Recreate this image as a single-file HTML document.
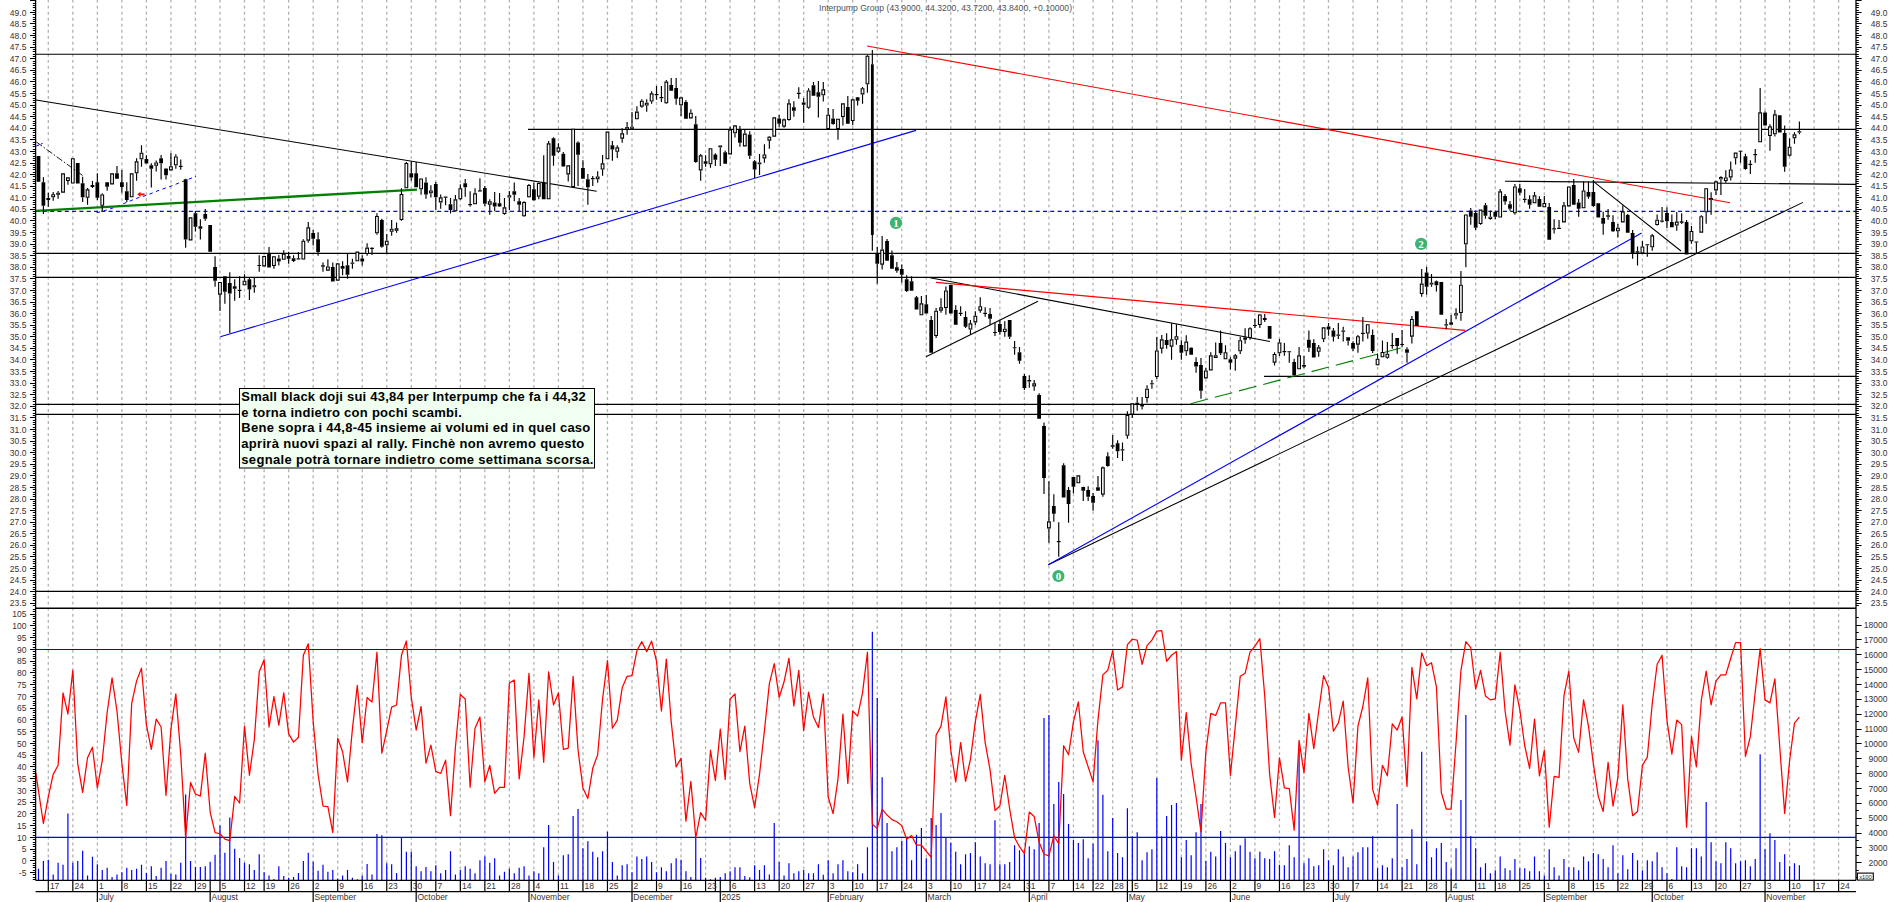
<!DOCTYPE html><html><head><meta charset="utf-8"><title>chart</title><style>html,body{margin:0;padding:0;background:#fff;overflow:hidden}body{width:1890px;height:902px;position:relative}</style></head><body><svg width="1890" height="902" viewBox="0 0 1890 902" style="position:absolute;left:0;top:0">
<rect width="100%" height="100%" fill="#fff"/>
<path d="M48.30 0V880.30M72.83 0V880.30M97.35 0V880.30M121.88 0V880.30M146.40 0V880.30M170.93 0V880.30M195.45 0V880.30M219.98 0V880.30M244.50 0V880.30M264.12 0V880.30M288.64 0V880.30M313.17 0V880.30M337.70 0V880.30M362.22 0V880.30M386.75 0V880.30M411.27 0V880.30M435.80 0V880.30M460.32 0V880.30M484.85 0V880.30M509.37 0V880.30M533.89 0V880.30M558.42 0V880.30M582.95 0V880.30M607.47 0V880.30M632.00 0V880.30M656.52 0V880.30M681.05 0V880.30M705.57 0V880.30M730.10 0V880.30M754.62 0V880.30M779.15 0V880.30M803.67 0V880.30M828.20 0V880.30M852.72 0V880.30M877.25 0V880.30M901.77 0V880.30M926.30 0V880.30M950.82 0V880.30M975.35 0V880.30M999.87 0V880.30M1024.39 0V880.30M1048.92 0V880.30M1073.45 0V880.30M1093.07 0V880.30M1112.69 0V880.30M1132.31 0V880.30M1156.83 0V880.30M1181.36 0V880.30M1205.88 0V880.30M1230.40 0V880.30M1254.93 0V880.30M1279.46 0V880.30M1303.98 0V880.30M1328.51 0V880.30M1353.03 0V880.30M1377.56 0V880.30M1402.08 0V880.30M1426.61 0V880.30M1451.13 0V880.30M1475.65 0V880.30M1495.28 0V880.30M1519.80 0V880.30M1544.33 0V880.30M1568.85 0V880.30M1593.38 0V880.30M1617.90 0V880.30M1642.43 0V880.30M1666.95 0V880.30M1691.48 0V880.30M1716.00 0V880.30M1740.53 0V880.30M1765.05 0V880.30M1789.58 0V880.30M1814.10 0V880.30M1838.62 0V880.30" stroke="#b2b2b2" stroke-width="1.3" stroke-dasharray="2.9 3.12" stroke-dashoffset="0.3" fill="none"/>
<path d="M35.60 54.20H1856.00M35.60 253.40H1856.00M35.60 277.30H1856.00M35.60 404.40H1856.00M35.60 414.40H1856.00M35.60 591.40H1856.00M528 129.4H1856.00M1264 376.4H1856.00M1505 181.2L1856.00 184.4" stroke="#000" stroke-width="1.15" fill="none"/>
<path d="M35.60 211.3H1856.00" stroke="#0000ff" stroke-width="1.3" stroke-dasharray="4 3.3" fill="none"/>
<path d="M35.60 649.48H1856.00M35.60 837.40H1856.00" stroke="#0000ff" stroke-width="1.2" fill="none"/>
<path d="M36 100L596.7 191.3M930 277.7L1270 341.6M926 356.7L1038 301.3M1048.3 564.7L1803 202.4M1593.3 181.3L1681 251" stroke="#000" stroke-width="1.05" fill="none"/>
<path d="M36.4 142L83.3 176" stroke="#000" stroke-width="0.9" stroke-dasharray="7 2 1.5 2" fill="none"/>
<path d="M220.3 336.7L916 130.4M1048.3 564.7L1641.6 233" stroke="#0000ff" stroke-width="1.1" fill="none"/>
<path d="M36.4 146L42.7 143.3" stroke="#0000ff" stroke-width="1" stroke-dasharray="3 2" fill="none"/>
<path d="M96.7 212.7L102.7 211.3L116.7 206.7L127.3 202L139.3 197.3L146.7 195.3L158 190.7L171.3 186L184.7 180.7L196 176.4" stroke="#0000ff" stroke-width="1" stroke-dasharray="3.5 3.5" fill="none"/>
<path d="M867 46L1730 202.7M936 282.4L1465.3 330.4" stroke="#ff0000" stroke-width="1.1" fill="none"/>
<path d="M36 210.9L417 189.7" stroke="#008000" stroke-width="2.3" fill="none"/>
<path d="M1190.7 403.7L1400.7 348" stroke="#008000" stroke-width="1.1" stroke-dasharray="18 7" fill="none"/>
<path d="M137.3 194.3l3.2 -2.6v1.7h4.2v1.8h-4.2v1.7z" fill="#ff0000"/>
<path d="M43.40 177.33V182.27M43.40 205.73V214.00M48.30 192.67V198.00M48.30 200.00V206.67M53.20 192.00V194.27M53.20 197.33V200.67M58.11 191.07V192.67M58.11 194.67V198.67M67.92 181.07V184.67M82.64 176.67V183.33M82.64 197.33V202.00M87.54 188.00V189.33M87.54 197.73V204.67M92.45 181.07V184.93M92.45 187.07V188.00M97.35 173.33V182.27M97.35 197.73V200.00M102.25 193.33V194.40M102.25 205.73V211.33M107.16 186.67V190.67M116.97 166.00V173.33M121.88 170.00V182.27M121.88 187.07V192.67M126.78 182.27V191.33M126.78 200.00V202.00M136.59 158.27V161.33M136.59 173.33V180.67M141.50 145.33V152.67M141.50 159.33V166.67M146.40 155.33V159.07M151.31 163.33V165.33M151.31 168.67V187.60M156.21 160.40V162.40M156.21 165.73V171.60M161.12 155.07V158.27M161.12 163.33V179.60M166.02 175.33V179.60M170.93 152.93V166.27M175.83 154.27V156.40M175.83 165.33V168.67M180.74 159.60V165.78M180.74 166.88V169.73M185.64 178.67V179.33M185.64 239.60V247.73M195.45 211.07V213.33M195.45 226.67V231.60M200.36 219.33V226.27M200.36 228.67V239.60M205.26 208.93V214.00M205.26 218.67V220.67M215.07 256.27V266.93M215.07 280.67V286.67M219.98 294.67V310.93M224.88 291.73V303.73M229.79 272.27V282.93M229.79 293.60V333.07M234.69 279.33V286.27M234.69 288.67V300.67M239.60 276.27V289.78M239.60 290.88V298.00M244.50 274.27V280.67M249.41 278.00V279.33M249.41 289.60V300.00M254.31 278.00V285.33M254.31 287.33V292.67M259.22 255.33V264.98M259.22 266.08V271.73M269.03 247.07V253.60M273.93 266.00V268.67M278.83 254.93V258.40M278.83 261.60V265.60M283.74 250.27V253.60M288.64 251.73V256.00M288.64 258.67V263.73M293.55 255.33V258.27M293.55 260.93V262.00M298.46 252.00V258.27M303.36 239.33V240.67M308.27 222.00V227.33M308.27 240.67V242.67M313.17 230.00V232.93M313.17 238.67V245.60M318.08 232.27V239.33M318.08 252.00V255.73M322.98 262.40V265.33M322.98 266.67V271.73M327.89 259.33V266.40M332.79 262.40V266.93M342.60 261.33V266.00M342.60 268.67V275.33M347.51 254.00V265.33M347.51 274.67V278.67M352.41 258.67V262.40M352.41 263.73V268.67M362.22 255.33V258.40M362.22 261.60V265.60M367.12 243.33V247.60M367.12 254.00V255.73M372.03 247.33V247.78M372.03 248.88V254.93M376.94 213.33V216.00M376.94 233.33V234.67M381.84 218.67V220.00M381.84 246.67V247.73M386.75 234.00V240.67M386.75 245.33V253.33M391.65 220.00V228.67M391.65 231.73V235.73M396.56 222.40V228.27M396.56 230.67V232.67M401.46 188.27V194.00M401.46 220.00V220.67M406.37 162.00V162.93M411.27 161.33V173.33M411.27 177.60V180.67M416.18 162.00V173.33M421.08 189.33V194.67M425.99 177.33V182.40M425.99 194.40V198.67M430.89 185.33V190.40M430.89 193.33V197.60M435.80 182.00V184.00M435.80 197.33V210.00M440.70 194.40V197.33M440.70 202.40V208.67M445.61 197.68V205.33M450.51 198.00V204.27M450.51 210.00V213.60M455.42 194.93V199.33M460.32 184.27V188.27M460.32 199.33V200.00M465.23 179.07V183.33M465.23 187.33V196.67M470.13 191.33V204.12M470.13 205.22V206.67M475.04 188.27V193.33M479.94 178.27V190.32M479.94 191.42V191.73M484.85 186.00V188.00M484.85 203.73V206.00M489.75 199.33V201.33M489.75 204.67V214.67M494.66 192.00V202.40M494.66 206.40V211.33M499.56 192.93V203.33M499.56 206.40V206.67M504.47 198.00V207.33M504.47 214.00V214.67M509.37 191.07V195.33M509.37 197.60V210.00M514.27 182.40V191.33M514.27 194.67V201.33M519.18 198.00V201.33M519.18 204.67V211.33M524.09 201.33V202.00M524.09 216.27V216.67M528.99 184.00V185.07M528.99 197.33V197.60M533.89 182.67V189.33M533.89 200.27V200.67M538.80 182.67V182.93M538.80 196.67V199.33M543.71 155.33V182.40M548.61 141.07V143.33M553.51 137.20V138.33M553.51 155.67V165.67M558.42 143.20V147.33M558.42 151.87V152.67M563.33 152.00V153.73M563.33 166.40V166.67M568.23 174.40V181.60M578.04 141.33V142.40M578.04 154.67V186.00M582.95 160.27V168.00M587.85 174.00V179.33M587.85 187.33V204.67M592.75 176.00V178.00M592.75 179.33V186.00M597.66 171.33V176.40M597.66 179.33V182.67M602.57 154.93V163.33M602.57 169.60V175.73M612.38 141.07V145.33M612.38 149.60V160.67M617.28 145.33V147.33M617.28 151.73V158.00M622.19 128.27V133.33M622.19 138.67V142.67M627.09 122.00V126.93M627.09 129.33V134.67M632.00 112.00V126.67M636.90 106.27V111.60M641.81 99.33V100.67M641.81 106.67V107.73M646.71 99.33V102.67M646.71 105.60V111.73M651.62 91.33V93.33M651.62 101.60V103.73M656.52 86.00V94.12M656.52 95.22V99.73M661.43 86.00V97.12M661.43 98.22V102.00M666.33 80.00V81.60M666.33 103.33V103.73M671.24 78.00V85.07M676.14 78.00V88.00M676.14 98.67V104.67M681.05 105.33V116.00M685.95 100.00V102.00M690.86 109.33V112.67M695.76 116.00V124.27M695.76 162.00V162.67M700.67 154.00V155.33M700.67 170.40V180.67M705.57 155.33V161.33M705.57 163.73V166.67M710.48 164.27V167.73M715.38 153.33V154.40M715.38 159.73V166.00M720.29 145.33V145.60M720.29 147.33V166.00M725.19 150.40V152.27M730.10 126.67V129.33M735.00 133.33V137.60M739.91 126.00V129.33M739.91 142.67V146.67M744.81 130.00V133.60M749.72 131.33V134.40M749.72 155.73V158.93M754.62 160.00V161.33M754.62 169.60V178.00M759.53 154.00V162.40M759.53 164.27V174.93M764.43 144.27V154.40M764.43 158.40V162.67M769.34 136.00V136.67M769.34 140.67V148.67M779.15 114.93V118.40M779.15 123.73V126.67M784.05 118.40V119.33M784.05 126.67V127.73M788.96 99.33V103.33M788.96 120.00V120.67M793.86 101.33V107.33M793.86 110.67V116.67M798.77 87.33V92.78M798.77 93.88V98.67M803.67 98.00V102.40M803.67 104.67V122.67M808.58 88.27V90.40M808.58 107.73V108.67M813.48 82.00V85.33M818.39 81.07V92.27M818.39 96.67V117.60M823.29 82.00V89.33M823.29 95.33V101.60M828.20 108.00V114.67M833.10 109.07V118.40M833.10 124.00V124.67M838.00 129.07V139.73M842.91 117.07V125.60M847.82 96.00V106.93M852.72 98.67V99.33M852.72 121.07V125.33M857.62 97.07V97.33M857.62 100.67V105.60M862.53 86.93V88.27M862.53 94.40V103.73M867.44 54.67V55.73M867.44 84.27V92.67M872.34 50.00V64.30M872.34 234.90V250.70M877.25 246.93V253.33M877.25 263.73V283.73M882.15 236.00V249.60M882.15 264.67V269.60M887.06 239.07V241.07M891.96 250.40V255.33M896.87 262.00V267.33M896.87 270.67V272.67M901.77 264.40V269.07M901.77 274.67V282.67M906.68 275.33V279.33M906.68 290.93V292.00M911.58 276.27V281.33M916.49 296.00V297.33M921.39 296.00V303.33M926.30 294.93V304.27M931.20 316.00V320.00M936.11 308.00V310.67M936.11 336.00V338.00M941.01 298.27V307.33M941.01 310.67V312.67M945.92 286.40V290.40M945.92 308.00V314.67M955.73 305.33V310.00M960.63 306.27V312.67M960.63 314.00V316.00M965.54 311.33V317.07M965.54 326.67V328.00M970.44 320.00V323.33M970.44 329.60V334.40M975.35 311.33V315.73M975.35 322.40V325.07M980.25 297.33V306.27M980.25 310.67V312.67M985.16 307.33V312.67M985.16 314.00V316.67M990.06 308.00V314.00M990.06 318.67V325.33M994.97 322.67V331.98M994.97 333.08V336.00M999.87 320.00V324.00M999.87 332.00V334.67M1004.78 321.33V328.67M1004.78 332.00V336.67M1009.68 336.67V338.93M1014.59 341.07V347.25M1014.59 348.35V354.67M1019.49 346.93V352.27M1019.49 360.67V363.73M1024.39 374.00V376.00M1024.39 388.00V390.00M1029.30 375.33V380.00M1029.30 381.60V387.73M1034.20 380.00V383.33M1034.20 386.40V390.67M1039.11 393.33V394.93M1044.02 422.40V426.00M1044.02 478.00V494.00M1048.92 481.33V521.33M1048.92 528.40V542.67M1053.83 494.27V506.00M1053.83 513.73V521.73M1058.73 522.27V541.12M1058.73 542.22V556.67M1063.63 463.33V465.33M1068.54 487.07V490.00M1068.54 504.00V522.67M1073.45 486.67V493.33M1083.26 486.67V487.07M1083.26 490.67V500.93M1088.16 486.27V490.00M1088.16 496.67V500.93M1093.07 492.93V496.00M1093.07 502.67V510.67M1097.97 476.00V487.33M1102.88 466.40V467.33M1102.88 494.67V496.67M1107.78 452.27V456.27M1107.78 466.00V466.67M1112.69 434.93V445.33M1112.69 446.67V448.67M1117.59 440.27V443.33M1117.59 451.33V458.00M1122.50 442.40V449.32M1122.50 450.42V460.93M1127.40 411.33V414.93M1127.40 435.73V438.67M1132.31 414.67V418.00M1137.21 397.07V402.67M1137.21 404.27V410.67M1142.12 397.07V404.67M1142.12 406.40V409.60M1147.02 385.33V388.67M1147.02 398.00V402.67M1151.92 380.00V383.25M1151.92 384.35V388.67M1156.83 337.07V350.40M1156.83 377.07V378.93M1161.74 334.93V339.33M1161.74 348.67V353.60M1166.64 333.33V340.00M1166.64 345.07V348.67M1171.55 323.33V339.33M1171.55 346.67V359.73M1176.45 324.27V336.27M1176.45 339.73V344.67M1181.36 340.27V345.07M1181.36 352.67V359.73M1186.26 335.33V341.60M1186.26 351.33V355.73M1191.16 347.33V347.73M1196.07 357.33V362.00M1196.07 366.40V372.67M1200.98 358.00V365.07M1200.98 390.67V398.67M1205.88 368.00V370.40M1210.79 352.27V355.33M1215.69 342.40V355.33M1220.60 330.40V342.93M1220.60 353.33V354.93M1225.50 345.33V352.27M1230.40 357.33V359.33M1230.40 362.67V369.60M1235.31 354.00V355.33M1235.31 358.67V370.67M1240.22 336.67V340.27M1240.22 351.33V354.00M1245.12 328.27V337.60M1245.12 339.73V343.73M1250.03 327.33V328.27M1250.03 338.00V339.73M1254.93 318.67V324.98M1254.93 326.08V328.00M1259.84 314.00V314.40M1259.84 325.07V328.00M1264.74 314.00V318.00M1264.74 320.00V322.00M1274.55 352.27V354.00M1274.55 362.67V365.60M1279.46 339.07V342.40M1279.46 353.33V356.00M1284.36 342.93V350.93M1284.36 352.27V355.73M1289.27 352.35V362.67M1294.17 358.67V362.00M1294.17 375.33V376.67M1299.08 346.93V355.33M1303.98 356.00V365.07M1303.98 366.67V368.00M1308.88 330.40V339.73M1308.88 347.73V352.00M1313.79 339.33V342.93M1318.70 345.07V347.33M1318.70 351.73V356.67M1323.60 339.33V342.00M1328.51 322.93V326.40M1328.51 329.60V335.73M1333.41 328.00V330.40M1333.41 336.67V341.60M1338.32 322.93V334.40M1338.32 335.73V338.93M1343.22 326.67V330.40M1343.22 331.73V341.60M1348.12 340.67V345.60M1353.03 341.33V342.93M1353.03 348.67V350.93M1357.94 334.93V336.27M1357.94 344.67V352.67M1362.84 317.07V332.78M1362.84 333.88V341.60M1367.75 333.60V338.67M1372.65 329.60V334.93M1372.65 350.93V353.07M1377.56 353.60V358.67M1377.56 365.33V365.60M1382.46 340.40V352.00M1387.37 342.00V353.73M1387.37 357.73V358.67M1392.27 332.93V344.92M1392.27 346.02V348.67M1397.18 346.00V353.73M1402.08 330.00V343.92M1402.08 345.02V347.33M1406.99 347.33V349.33M1406.99 352.67V362.67M1411.89 316.00V319.07M1411.89 336.67V343.60M1421.70 269.07V283.60M1421.70 294.00V296.67M1426.61 267.07V272.40M1426.61 286.67V294.67M1431.51 274.00V282.67M1431.51 284.40V286.67M1436.42 280.40V281.33M1436.42 285.33V291.60M1446.23 319.07V324.32M1446.23 325.42V329.33M1451.13 315.07V322.27M1456.04 308.27V313.33M1456.04 315.60V319.33M1460.94 271.07V284.67M1460.94 312.93V320.67M1465.85 244.27V267.33M1470.75 208.00V210.40M1470.75 216.67V224.67M1475.65 210.40V213.07M1475.65 227.73V230.00M1480.56 224.00V224.67M1485.47 202.93V205.33M1485.47 215.73V218.67M1490.37 210.40V216.67M1490.37 218.93V219.73M1495.28 210.40V212.00M1495.28 216.67V219.33M1500.18 189.07V191.33M1505.09 194.00V196.00M1505.09 201.60V204.67M1509.99 201.07V204.27M1509.99 208.67V210.67M1514.89 184.00V186.40M1514.89 213.33V214.67M1519.80 184.00V188.27M1519.80 192.67V195.33M1524.71 189.07V198.78M1524.71 199.88V202.67M1529.61 195.33V199.33M1529.61 204.67V208.67M1534.52 192.00V195.33M1539.42 196.27V198.93M1544.33 196.00V202.93M1549.23 202.93V206.93M1554.13 219.33V228.27M1554.13 229.60V233.60M1559.04 220.00V227.85M1563.95 202.00V205.33M1573.76 179.07V185.07M1578.66 198.93V202.40M1578.66 208.67V216.67M1583.57 181.33V190.40M1588.47 181.33V192.00M1588.47 196.67V198.67M1593.38 180.00V192.00M1593.38 206.00V206.67M1603.19 211.73V218.00M1603.19 223.73V234.67M1608.09 209.07V215.33M1608.09 216.67V219.73M1613.00 215.33V222.00M1613.00 231.33V232.00M1617.90 224.00V227.73M1617.90 231.33V237.60M1622.81 205.33V211.33M1627.71 214.00V214.93M1632.62 230.00V233.07M1632.62 253.33V258.67M1637.52 246.40V251.33M1637.52 252.67V265.60M1642.43 241.07V246.40M1647.33 245.35V256.67M1652.24 234.00V235.33M1652.24 247.33V250.67M1657.14 214.40V219.73M1657.14 225.07V225.60M1662.05 206.93V220.58M1662.05 221.68V222.40M1666.95 207.33V213.07M1666.95 221.33V228.00M1671.86 214.40V222.00M1676.76 212.00V221.60M1676.76 225.60V230.67M1681.67 213.33V221.33M1681.67 222.67V224.00M1686.57 220.00V222.00M1691.48 226.00V230.93M1691.48 241.33V243.73M1696.38 242.55V253.33M1701.29 215.33V216.27M1706.19 212.27V223.73M1711.10 192.27V198.00M1711.10 200.00V214.67M1716.00 180.67V181.33M1716.00 190.40V194.93M1720.91 176.27V177.07M1720.91 179.33V194.93M1725.81 170.33V177.40M1725.81 181.00V182.73M1730.72 161.40V169.40M1730.72 177.40V180.60M1735.62 158.33V164.60M1740.53 151.75V162.73M1745.43 153.67V156.33M1745.43 169.00V169.67M1750.34 160.33V163.78M1750.34 164.88V173.93M1755.24 149.00V154.12M1755.24 155.22V162.73M1760.15 88.07V112.33M1765.05 111.27V112.60M1769.96 124.33V126.33M1769.96 136.07V150.73M1774.86 109.93V114.33M1774.86 134.33V136.60M1784.67 125.40V133.00M1784.67 166.73V171.67M1789.58 138.33V146.73M1789.58 155.67V156.60M1794.48 132.33V134.33M1794.48 138.33V143.67M1799.38 121.40V131.27M1799.38 132.60V134.33" stroke="#000" stroke-width="1.15" fill="none"/>
<path d="M36.62 156.00h3.75v25.73h-3.75zM41.52 182.27h3.75v23.47h-3.75zM46.43 198.00h3.75v2.00h-3.75zM51.30 194.27h3.80v3.07h-3.80zM56.26 192.67h3.70v2.00h-3.70zM61.12 173.33h3.80v19.33h-3.80zM66.02 177.33h3.80v3.73h-3.80zM70.92 158.27h3.80v25.33h-3.80zM75.86 163.07h3.75v20.53h-3.75zM80.76 183.33h3.75v14.00h-3.75zM85.64 189.33h3.80v8.40h-3.80zM90.57 184.93h3.75v2.13h-3.75zM95.47 182.27h3.75v15.47h-3.75zM100.35 194.40h3.80v11.33h-3.80zM105.28 182.27h3.75v4.40h-3.75zM110.16 173.33h3.80v11.07h-3.80zM115.09 173.33h3.75v5.33h-3.75zM120.00 182.27h3.75v4.80h-3.75zM124.91 191.33h3.75v8.67h-3.75zM129.78 173.33h3.80v24.00h-3.80zM134.69 161.33h3.80v12.00h-3.80zM139.59 152.67h3.80v6.67h-3.80zM144.53 159.07h3.75v4.53h-3.75zM149.43 165.33h3.75v3.33h-3.75zM154.31 162.40h3.80v3.33h-3.80zM159.24 158.27h3.75v5.07h-3.75zM164.15 168.40h3.75v6.93h-3.75zM169.03 166.27h3.80v4.13h-3.80zM173.93 156.40h3.80v8.93h-3.80zM178.86 165.78h3.75v1.10h-3.75zM183.77 179.33h3.75v60.27h-3.75zM188.65 217.33h3.80v23.07h-3.80zM193.58 213.33h3.75v13.33h-3.75zM198.48 226.27h3.75v2.40h-3.75zM203.39 214.00h3.75v4.67h-3.75zM208.29 225.07h3.75v26.67h-3.75zM213.20 266.93h3.75v13.73h-3.75zM218.08 282.00h3.80v12.67h-3.80zM223.01 276.27h3.75v15.47h-3.75zM227.91 282.93h3.75v10.67h-3.75zM232.82 286.27h3.75v2.40h-3.75zM237.72 289.78h3.75v1.10h-3.75zM242.60 280.67h3.80v4.67h-3.80zM247.53 279.33h3.75v10.27h-3.75zM252.46 285.33h3.70v2.00h-3.70zM257.34 264.98h3.75v1.10h-3.75zM262.22 256.00h3.80v10.40h-3.80zM267.15 253.60h3.75v14.00h-3.75zM272.03 256.27h3.80v9.73h-3.80zM276.96 258.40h3.75v3.20h-3.75zM281.84 253.60h3.80v6.13h-3.80zM286.77 256.00h3.75v2.67h-3.75zM291.68 258.27h3.75v2.67h-3.75zM296.58 258.27h3.75v1.33h-3.75zM301.46 240.67h3.80v18.93h-3.80zM306.37 227.33h3.80v13.33h-3.80zM311.30 232.93h3.75v5.73h-3.75zM316.20 239.33h3.75v12.67h-3.75zM321.11 265.33h3.75v1.33h-3.75zM325.99 266.40h3.80v4.27h-3.80zM330.92 266.93h3.75v14.67h-3.75zM335.80 263.33h3.80v17.33h-3.80zM340.73 266.00h3.75v2.67h-3.75zM345.63 265.33h3.75v9.33h-3.75zM350.54 262.40h3.75v1.33h-3.75zM355.42 251.60h3.80v9.73h-3.80zM360.35 258.40h3.75v3.20h-3.75zM365.23 247.60h3.80v6.40h-3.80zM370.16 247.78h3.75v1.10h-3.75zM375.04 216.00h3.80v17.33h-3.80zM379.97 220.00h3.75v26.67h-3.75zM384.85 240.67h3.80v4.67h-3.80zM389.75 228.67h3.80v3.07h-3.80zM394.66 228.27h3.80v2.40h-3.80zM399.56 194.00h3.80v26.00h-3.80zM404.47 162.93h3.80v25.33h-3.80zM409.40 173.33h3.75v4.27h-3.75zM414.30 173.33h3.75v14.00h-3.75zM419.18 178.40h3.80v10.93h-3.80zM424.11 182.40h3.75v12.00h-3.75zM428.99 190.40h3.80v2.93h-3.80zM433.92 184.00h3.75v13.33h-3.75zM438.80 197.33h3.80v5.07h-3.80zM443.73 196.58h3.75v1.10h-3.75zM448.64 204.27h3.75v5.73h-3.75zM453.52 199.33h3.80v12.00h-3.80zM458.42 188.27h3.80v11.07h-3.80zM463.35 183.33h3.75v4.00h-3.75zM468.26 204.12h3.75v1.10h-3.75zM473.14 193.33h3.80v10.93h-3.80zM478.07 190.32h3.75v1.10h-3.75zM482.97 188.00h3.75v15.73h-3.75zM487.85 201.33h3.80v3.33h-3.80zM492.78 202.40h3.75v4.00h-3.75zM497.69 203.33h3.75v3.07h-3.75zM502.57 207.33h3.80v6.67h-3.80zM507.52 195.33h3.70v2.27h-3.70zM512.40 191.33h3.75v3.33h-3.75zM517.30 201.33h3.75v3.33h-3.75zM522.19 202.00h3.80v14.27h-3.80zM527.09 185.07h3.80v12.27h-3.80zM532.02 189.33h3.75v10.93h-3.75zM536.90 182.93h3.80v13.73h-3.80zM541.83 182.40h3.75v16.93h-3.75zM546.71 143.33h3.80v56.00h-3.80zM551.64 138.33h3.75v17.33h-3.75zM556.52 147.33h3.80v4.53h-3.80zM561.45 153.73h3.75v12.67h-3.75zM566.33 165.33h3.80v9.07h-3.80zM571.24 128.67h3.80v58.27h-3.80zM576.17 142.40h3.75v12.27h-3.75zM581.07 168.00h3.75v10.67h-3.75zM585.98 179.33h3.75v8.00h-3.75zM590.88 178.00h3.75v1.33h-3.75zM595.76 176.40h3.80v2.93h-3.80zM600.67 163.33h3.80v6.27h-3.80zM605.57 131.60h3.80v27.73h-3.80zM610.50 145.33h3.75v4.27h-3.75zM615.38 147.33h3.80v4.40h-3.80zM620.29 133.33h3.80v5.33h-3.80zM625.24 126.93h3.70v2.40h-3.70zM630.14 126.67h3.70v2.40h-3.70zM635.00 111.60h3.80v7.73h-3.80zM639.91 100.67h3.80v6.00h-3.80zM644.81 102.67h3.80v2.93h-3.80zM649.72 93.33h3.80v8.27h-3.80zM654.65 94.12h3.75v1.10h-3.75zM659.55 97.12h3.75v1.10h-3.75zM664.43 81.60h3.80v21.73h-3.80zM669.36 85.07h3.75v5.60h-3.75zM674.26 88.00h3.75v10.67h-3.75zM679.15 97.33h3.80v8.00h-3.80zM684.08 102.00h3.75v16.67h-3.75zM688.96 112.67h3.80v5.73h-3.80zM693.88 124.27h3.75v37.73h-3.75zM698.77 155.33h3.80v15.07h-3.80zM703.70 161.33h3.75v2.40h-3.75zM708.58 148.27h3.80v16.00h-3.80zM713.50 154.40h3.75v5.33h-3.75zM718.44 145.60h3.70v1.73h-3.70zM723.32 152.27h3.75v11.47h-3.75zM728.20 129.33h3.80v25.07h-3.80zM733.10 125.33h3.80v8.00h-3.80zM738.03 129.33h3.75v13.33h-3.75zM742.91 133.60h3.80v12.80h-3.80zM747.84 134.40h3.75v21.33h-3.75zM752.75 161.33h3.75v8.27h-3.75zM757.68 162.40h3.70v1.87h-3.70zM762.53 154.40h3.80v4.00h-3.80zM767.44 136.67h3.80v4.00h-3.80zM772.34 117.33h3.80v19.33h-3.80zM777.27 118.40h3.75v5.33h-3.75zM782.15 119.33h3.80v7.33h-3.80zM787.06 103.33h3.80v16.67h-3.80zM791.99 107.33h3.75v3.33h-3.75zM796.89 92.78h3.75v1.10h-3.75zM801.80 102.40h3.75v2.27h-3.75zM806.68 90.40h3.80v17.33h-3.80zM811.61 85.33h3.75v10.40h-3.75zM816.51 92.27h3.75v4.40h-3.75zM821.39 89.33h3.80v6.00h-3.80zM826.30 114.67h3.80v14.40h-3.80zM831.23 118.40h3.75v5.60h-3.75zM836.11 118.67h3.80v10.40h-3.80zM841.01 103.33h3.80v13.73h-3.80zM845.94 106.93h3.75v16.80h-3.75zM850.82 99.33h3.80v21.73h-3.80zM855.75 97.33h3.75v3.33h-3.75zM860.63 88.27h3.80v6.13h-3.80zM865.54 55.73h3.80v28.53h-3.80zM870.94 64.30h2.80v170.60h-2.80zM875.37 253.33h3.75v10.40h-3.75zM880.25 249.60h3.80v15.07h-3.80zM885.18 241.07h3.75v19.60h-3.75zM890.09 255.33h3.75v13.33h-3.75zM894.99 267.33h3.75v3.33h-3.75zM899.90 269.07h3.75v5.60h-3.75zM904.80 279.33h3.75v11.60h-3.75zM909.71 281.33h3.75v9.33h-3.75zM914.61 297.33h3.75v12.27h-3.75zM919.49 303.33h3.80v12.00h-3.80zM924.42 304.27h3.75v9.33h-3.75zM929.33 320.00h3.75v32.67h-3.75zM934.21 310.67h3.80v25.33h-3.80zM939.11 307.33h3.80v3.33h-3.80zM944.02 290.40h3.80v17.60h-3.80zM948.95 285.07h3.75v28.53h-3.75zM953.85 310.00h3.75v14.67h-3.75zM958.76 312.67h3.75v1.33h-3.75zM963.66 317.07h3.75v9.60h-3.75zM968.54 323.33h3.80v6.27h-3.80zM973.45 315.73h3.80v6.67h-3.80zM978.35 306.27h3.80v4.40h-3.80zM983.28 312.67h3.75v1.33h-3.75zM988.19 314.00h3.75v4.67h-3.75zM993.09 331.98h3.75v1.10h-3.75zM998.00 324.00h3.75v8.00h-3.75zM1002.88 328.67h3.80v3.33h-3.80zM1007.81 320.00h3.75v16.67h-3.75zM1012.71 347.25h3.75v1.10h-3.75zM1017.62 352.27h3.75v8.40h-3.75zM1022.52 376.00h3.75v12.00h-3.75zM1027.42 380.00h3.75v1.60h-3.75zM1032.30 383.33h3.80v3.07h-3.80zM1037.21 394.93h3.80v23.73h-3.80zM1042.12 426.00h3.80v52.00h-3.80zM1047.02 521.33h3.80v7.07h-3.80zM1051.95 506.00h3.75v7.73h-3.75zM1056.86 541.12h3.75v1.10h-3.75zM1061.76 465.33h3.75v32.27h-3.75zM1066.66 490.00h3.75v14.00h-3.75zM1071.57 477.07h3.75v9.60h-3.75zM1076.45 475.33h3.80v8.00h-3.80zM1081.38 487.07h3.75v3.60h-3.75zM1086.29 490.00h3.75v6.67h-3.75zM1091.19 496.00h3.75v6.67h-3.75zM1096.10 487.33h3.75v3.33h-3.75zM1100.97 467.33h3.80v27.33h-3.80zM1105.90 456.27h3.75v9.73h-3.75zM1110.81 445.33h3.75v1.33h-3.75zM1115.72 443.33h3.75v8.00h-3.75zM1120.62 449.32h3.75v1.10h-3.75zM1125.50 414.93h3.80v20.80h-3.80zM1130.40 403.33h3.80v11.33h-3.80zM1135.34 402.67h3.75v1.60h-3.75zM1140.24 404.67h3.75v1.73h-3.75zM1145.12 388.67h3.80v9.33h-3.80zM1150.05 383.25h3.75v1.10h-3.75zM1154.93 350.40h3.80v26.67h-3.80zM1159.84 339.33h3.80v9.33h-3.80zM1164.77 340.00h3.75v5.07h-3.75zM1169.64 339.33h3.80v7.33h-3.80zM1174.55 336.27h3.80v3.47h-3.80zM1179.48 345.07h3.75v7.60h-3.75zM1184.36 341.60h3.80v9.73h-3.80zM1189.29 347.73h3.75v6.93h-3.75zM1194.20 362.00h3.75v4.40h-3.75zM1199.10 365.07h3.75v25.60h-3.75zM1203.98 370.40h3.80v8.00h-3.80zM1208.88 355.33h3.80v15.07h-3.80zM1213.79 355.33h3.80v2.67h-3.80zM1218.72 342.93h3.75v10.40h-3.75zM1223.60 352.27h3.80v7.07h-3.80zM1228.53 359.33h3.75v3.33h-3.75zM1233.41 355.33h3.80v3.33h-3.80zM1238.32 340.27h3.80v11.07h-3.80zM1243.25 337.60h3.75v2.13h-3.75zM1248.12 328.27h3.80v9.73h-3.80zM1253.06 324.98h3.75v1.10h-3.75zM1257.93 314.40h3.80v10.67h-3.80zM1262.87 318.00h3.75v2.00h-3.75zM1267.77 326.00h3.75v12.67h-3.75zM1272.65 354.00h3.80v8.67h-3.80zM1277.56 342.40h3.80v10.93h-3.80zM1282.49 350.93h3.75v1.33h-3.75zM1287.39 351.25h3.75v1.10h-3.75zM1292.30 362.00h3.75v13.33h-3.75zM1297.17 355.33h3.80v14.00h-3.80zM1302.11 365.07h3.75v1.60h-3.75zM1307.01 339.73h3.75v8.00h-3.75zM1311.91 342.93h3.75v14.67h-3.75zM1316.80 347.33h3.80v4.40h-3.80zM1321.70 327.33h3.80v12.00h-3.80zM1326.63 326.40h3.75v3.20h-3.75zM1331.54 330.40h3.75v6.27h-3.75zM1336.44 334.40h3.75v1.33h-3.75zM1341.35 330.40h3.75v1.33h-3.75zM1346.25 337.33h3.75v3.33h-3.75zM1351.15 342.93h3.75v5.73h-3.75zM1356.04 336.27h3.80v8.40h-3.80zM1360.97 332.78h3.75v1.10h-3.75zM1365.85 324.27h3.80v9.33h-3.80zM1370.78 334.93h3.75v16.00h-3.75zM1375.65 358.67h3.80v6.67h-3.80zM1380.56 352.00h3.80v5.33h-3.80zM1385.46 353.73h3.80v4.00h-3.80zM1390.39 344.92h3.75v1.10h-3.75zM1395.30 338.00h3.75v8.00h-3.75zM1400.21 343.92h3.75v1.10h-3.75zM1405.11 349.33h3.75v3.33h-3.75zM1409.99 319.07h3.80v17.60h-3.80zM1414.92 311.33h3.75v14.67h-3.75zM1419.80 283.60h3.80v10.40h-3.80zM1424.73 272.40h3.75v14.27h-3.75zM1429.66 282.67h3.70v1.73h-3.70zM1434.54 281.33h3.75v4.00h-3.75zM1439.45 282.00h3.75v32.67h-3.75zM1444.35 324.32h3.75v1.10h-3.75zM1449.26 322.27h3.75v2.40h-3.75zM1454.19 313.33h3.70v2.27h-3.70zM1459.04 284.67h3.80v28.27h-3.80zM1463.94 214.40h3.80v29.87h-3.80zM1468.88 210.40h3.75v6.27h-3.75zM1473.78 213.07h3.75v14.67h-3.75zM1478.66 209.60h3.80v14.40h-3.80zM1483.59 205.33h3.75v10.40h-3.75zM1488.52 216.67h3.70v2.27h-3.70zM1493.40 212.00h3.75v4.67h-3.75zM1498.28 191.33h3.80v26.27h-3.80zM1503.21 196.00h3.75v5.60h-3.75zM1508.12 204.27h3.75v4.40h-3.75zM1512.99 186.40h3.80v26.93h-3.80zM1517.93 188.27h3.75v4.40h-3.75zM1522.83 198.78h3.75v1.10h-3.75zM1527.74 199.33h3.75v5.33h-3.75zM1532.62 195.33h3.80v8.00h-3.80zM1537.55 198.93h3.75v7.73h-3.75zM1542.42 202.93h3.80v4.40h-3.80zM1547.36 206.93h3.75v32.80h-3.75zM1552.26 228.27h3.75v1.33h-3.75zM1557.17 227.85h3.75v1.10h-3.75zM1562.05 205.33h3.80v17.07h-3.80zM1566.95 186.40h3.80v20.00h-3.80zM1571.88 185.07h3.75v19.60h-3.75zM1576.79 202.40h3.75v6.27h-3.75zM1581.66 190.40h3.80v17.87h-3.80zM1586.60 192.00h3.75v4.67h-3.75zM1591.50 192.00h3.75v14.00h-3.75zM1596.41 203.33h3.75v14.27h-3.75zM1601.31 218.00h3.75v5.73h-3.75zM1606.22 215.33h3.75v1.33h-3.75zM1611.12 222.00h3.75v9.33h-3.75zM1616.00 227.73h3.80v3.60h-3.80zM1620.90 211.33h3.80v11.07h-3.80zM1625.84 214.93h3.75v17.73h-3.75zM1630.74 233.07h3.75v20.27h-3.75zM1635.64 251.33h3.75v1.33h-3.75zM1640.53 246.40h3.80v6.93h-3.80zM1645.46 244.25h3.75v1.10h-3.75zM1650.34 235.33h3.80v12.00h-3.80zM1655.24 219.73h3.80v5.33h-3.80zM1660.17 220.58h3.75v1.10h-3.75zM1665.08 213.07h3.75v8.27h-3.75zM1669.98 222.00h3.75v5.33h-3.75zM1674.86 221.60h3.80v4.00h-3.80zM1679.79 221.33h3.75v1.33h-3.75zM1684.70 222.00h3.75v32.40h-3.75zM1689.58 230.93h3.80v10.40h-3.80zM1694.51 241.45h3.75v1.10h-3.75zM1699.38 216.27h3.80v16.40h-3.80zM1704.29 188.27h3.80v24.00h-3.80zM1709.25 198.00h3.70v2.00h-3.70zM1714.10 181.33h3.80v9.07h-3.80zM1719.06 177.07h3.70v2.27h-3.70zM1723.91 177.40h3.80v3.60h-3.80zM1728.82 169.40h3.80v8.00h-3.80zM1733.72 152.60h3.80v5.73h-3.80zM1738.65 150.65h3.75v1.10h-3.75zM1743.56 156.33h3.75v12.67h-3.75zM1748.46 163.78h3.75v1.10h-3.75zM1753.37 154.12h3.75v1.10h-3.75zM1758.25 112.33h3.80v30.00h-3.80zM1763.18 112.60h3.75v12.80h-3.75zM1768.06 126.33h3.80v9.73h-3.80zM1772.96 114.33h3.80v20.00h-3.80zM1777.89 115.27h3.75v17.33h-3.75zM1782.80 133.00h3.75v33.73h-3.75zM1787.67 146.73h3.80v8.93h-3.80zM1792.58 134.33h3.80v4.00h-3.80zM1797.51 131.27h3.75v1.33h-3.75z" fill="#000"/>
<path d="M52.41 195.32h1.60v0.97h-1.60zM57.31 193.57h1.60v0.30h-1.60zM62.22 174.38h1.60v17.23h-1.60zM67.12 178.38h1.60v1.63h-1.60zM72.03 159.32h1.60v23.23h-1.60zM86.74 190.38h1.60v6.30h-1.60zM101.45 195.45h1.60v9.23h-1.60zM111.27 174.38h1.60v8.97h-1.60zM130.88 174.38h1.60v21.90h-1.60zM135.79 162.38h1.60v9.90h-1.60zM140.69 153.72h1.60v4.57h-1.60zM155.41 163.45h1.60v1.23h-1.60zM170.12 167.32h1.60v2.03h-1.60zM175.03 157.45h1.60v6.83h-1.60zM189.75 218.38h1.60v20.97h-1.60zM219.18 283.05h1.60v10.57h-1.60zM243.70 281.72h1.60v2.57h-1.60zM253.51 286.23h1.60v0.30h-1.60zM263.32 257.05h1.60v8.30h-1.60zM273.13 257.32h1.60v7.63h-1.60zM282.94 254.65h1.60v4.03h-1.60zM302.56 241.72h1.60v16.83h-1.60zM307.47 228.38h1.60v11.23h-1.60zM327.09 267.45h1.60v2.17h-1.60zM336.90 264.38h1.60v15.23h-1.60zM356.51 252.65h1.60v7.63h-1.60zM366.32 248.65h1.60v4.30h-1.60zM376.13 217.05h1.60v15.23h-1.60zM385.94 241.72h1.60v2.57h-1.60zM390.85 229.72h1.60v0.97h-1.60zM395.75 229.32h1.60v0.30h-1.60zM400.66 195.05h1.60v23.90h-1.60zM405.56 163.98h1.60v23.23h-1.60zM420.28 179.45h1.60v8.83h-1.60zM430.09 191.45h1.60v0.83h-1.60zM439.90 198.38h1.60v2.97h-1.60zM454.62 200.38h1.60v9.90h-1.60zM459.52 189.32h1.60v8.97h-1.60zM474.24 194.38h1.60v8.83h-1.60zM488.95 202.38h1.60v1.23h-1.60zM503.67 208.38h1.60v4.57h-1.60zM508.57 196.23h1.60v0.47h-1.60zM523.29 203.05h1.60v12.17h-1.60zM528.19 186.12h1.60v10.17h-1.60zM538.00 183.98h1.60v11.63h-1.60zM547.81 144.38h1.60v53.90h-1.60zM557.62 148.38h1.60v2.43h-1.60zM567.43 166.38h1.60v6.97h-1.60zM572.34 129.72h1.60v56.17h-1.60zM596.86 177.45h1.60v0.83h-1.60zM601.77 164.38h1.60v4.17h-1.60zM606.67 132.65h1.60v25.63h-1.60zM616.48 148.38h1.60v2.30h-1.60zM621.39 134.38h1.60v3.23h-1.60zM626.29 127.83h1.60v0.60h-1.60zM631.20 127.57h1.60v0.60h-1.60zM636.10 112.65h1.60v5.63h-1.60zM641.01 101.72h1.60v3.90h-1.60zM645.91 103.72h1.60v0.83h-1.60zM650.82 94.38h1.60v6.17h-1.60zM665.53 82.65h1.60v19.63h-1.60zM680.25 98.38h1.60v5.90h-1.60zM690.06 113.72h1.60v3.63h-1.60zM699.87 156.38h1.60v12.97h-1.60zM709.68 149.32h1.60v13.90h-1.60zM719.49 146.50h1.60v0.30h-1.60zM729.30 130.38h1.60v22.97h-1.60zM734.20 126.38h1.60v5.90h-1.60zM744.01 134.65h1.60v10.70h-1.60zM758.73 163.30h1.60v0.30h-1.60zM763.63 155.45h1.60v1.90h-1.60zM768.54 137.72h1.60v1.90h-1.60zM773.44 118.38h1.60v17.23h-1.60zM783.25 120.38h1.60v5.23h-1.60zM788.16 104.38h1.60v14.57h-1.60zM807.78 91.45h1.60v15.23h-1.60zM822.49 90.38h1.60v3.90h-1.60zM827.40 115.72h1.60v12.30h-1.60zM837.21 119.72h1.60v8.30h-1.60zM842.11 104.38h1.60v11.63h-1.60zM851.92 100.38h1.60v19.63h-1.60zM861.73 89.32h1.60v4.03h-1.60zM866.64 56.78h1.60v26.43h-1.60zM881.35 250.65h1.60v12.97h-1.60zM920.59 304.38h1.60v9.90h-1.60zM935.31 311.72h1.60v23.23h-1.60zM940.21 308.38h1.60v1.23h-1.60zM945.12 291.45h1.60v15.50h-1.60zM969.64 324.38h1.60v4.17h-1.60zM974.55 316.78h1.60v4.57h-1.60zM979.45 307.32h1.60v2.30h-1.60zM1003.98 329.72h1.60v1.23h-1.60zM1033.40 384.38h1.60v0.97h-1.60zM1048.12 522.38h1.60v4.97h-1.60zM1077.55 476.38h1.60v5.90h-1.60zM1102.08 468.38h1.60v25.23h-1.60zM1126.60 415.98h1.60v18.70h-1.60zM1131.51 404.38h1.60v9.23h-1.60zM1146.22 389.72h1.60v7.23h-1.60zM1156.03 351.45h1.60v24.57h-1.60zM1160.94 340.38h1.60v7.23h-1.60zM1170.75 340.38h1.60v5.23h-1.60zM1175.65 337.32h1.60v1.37h-1.60zM1185.46 342.65h1.60v7.63h-1.60zM1205.08 371.45h1.60v5.90h-1.60zM1209.99 356.38h1.60v12.97h-1.60zM1214.89 356.38h1.60v0.57h-1.60zM1224.70 353.32h1.60v4.97h-1.60zM1234.51 356.38h1.60v1.23h-1.60zM1239.42 341.32h1.60v8.97h-1.60zM1249.23 329.32h1.60v7.63h-1.60zM1259.04 315.45h1.60v8.57h-1.60zM1273.75 355.05h1.60v6.57h-1.60zM1278.66 343.45h1.60v8.83h-1.60zM1298.28 356.38h1.60v11.90h-1.60zM1317.90 348.38h1.60v2.30h-1.60zM1322.80 328.38h1.60v9.90h-1.60zM1357.14 337.32h1.60v6.30h-1.60zM1366.95 325.32h1.60v7.23h-1.60zM1376.76 359.72h1.60v4.57h-1.60zM1381.66 353.05h1.60v3.23h-1.60zM1386.57 354.78h1.60v1.90h-1.60zM1411.09 320.12h1.60v15.50h-1.60zM1420.90 284.65h1.60v8.30h-1.60zM1430.71 283.57h1.60v0.30h-1.60zM1455.24 314.23h1.60v0.47h-1.60zM1460.14 285.72h1.60v26.17h-1.60zM1465.05 215.45h1.60v27.77h-1.60zM1479.76 210.65h1.60v12.30h-1.60zM1489.57 217.57h1.60v0.47h-1.60zM1499.38 192.38h1.60v24.17h-1.60zM1514.10 187.45h1.60v24.83h-1.60zM1533.72 196.38h1.60v5.90h-1.60zM1543.53 203.98h1.60v2.30h-1.60zM1563.15 206.38h1.60v14.97h-1.60zM1568.05 187.45h1.60v17.90h-1.60zM1582.77 191.45h1.60v15.77h-1.60zM1617.10 228.78h1.60v1.50h-1.60zM1622.01 212.38h1.60v8.97h-1.60zM1641.63 247.45h1.60v4.83h-1.60zM1651.44 236.38h1.60v9.90h-1.60zM1656.34 220.78h1.60v3.23h-1.60zM1675.96 222.65h1.60v1.90h-1.60zM1690.68 231.98h1.60v8.30h-1.60zM1700.49 217.32h1.60v14.30h-1.60zM1705.39 189.32h1.60v21.90h-1.60zM1710.30 198.90h1.60v0.30h-1.60zM1715.20 182.38h1.60v6.97h-1.60zM1720.11 177.97h1.60v0.47h-1.60zM1725.01 178.45h1.60v1.50h-1.60zM1729.92 170.45h1.60v5.90h-1.60zM1734.82 153.65h1.60v3.63h-1.60zM1759.35 113.38h1.60v27.90h-1.60zM1769.16 127.38h1.60v7.63h-1.60zM1774.06 115.38h1.60v17.90h-1.60zM1788.78 147.78h1.60v6.83h-1.60zM1793.68 135.38h1.60v1.90h-1.60z" fill="#fff"/>
<path d="M38.49 868.75V880.30M43.40 860.90V880.30M48.30 859.70V880.30M53.20 874.48V880.30M58.11 862.71V880.30M63.02 864.83V880.30M67.92 813.56V880.30M72.83 862.71V880.30M77.73 860.90V880.30M82.64 850.65V880.30M87.54 875.38V880.30M92.45 856.68V880.30M97.35 864.22V880.30M102.25 869.95V880.30M107.16 867.84V880.30M112.06 876.89V880.30M116.97 874.48V880.30M121.88 872.36V880.30M126.78 867.84V880.30M131.69 869.95V880.30M136.59 868.75V880.30M141.50 864.83V880.30M146.40 872.97V880.30M151.31 866.33V880.30M156.21 875.98V880.30M161.12 867.84V880.30M166.02 860.90V880.30M170.93 873.87V880.30M175.83 874.48V880.30M180.74 862.71V880.30M185.64 794.56V880.30M190.55 860.90V880.30M195.45 866.94V880.30M200.36 866.94V880.30M205.26 866.33V880.30M210.17 861.81V880.30M215.07 854.87V880.30M219.98 825.62V880.30M224.88 852.76V880.30M229.79 817.48V880.30M234.69 848.84V880.30M239.60 857.89V880.30M244.50 862.71V880.30M249.41 864.22V880.30M254.31 869.95V880.30M259.22 854.27V880.30M264.12 872.36V880.30M269.03 875.38V880.30M273.93 879.00V880.30M278.83 866.33V880.30M283.74 875.98V880.30M288.64 877.79V880.30M293.55 876.89V880.30M298.46 872.97V880.30M303.36 860.90V880.30M308.27 852.76V880.30M313.17 861.81V880.30M318.08 870.86V880.30M322.98 864.83V880.30M327.89 871.76V880.30M332.79 869.95V880.30M337.70 878.40V880.30M342.60 875.38V880.30M347.51 869.95V880.30M352.41 877.79V880.30M357.31 879.30V880.30M362.22 875.38V880.30M367.12 863.92V880.30M372.03 874.48V880.30M376.94 834.07V880.30M381.84 835.27V880.30M386.75 863.32V880.30M391.65 864.22V880.30M396.56 872.97V880.30M401.46 837.68V880.30M406.37 851.86V880.30M411.27 851.86V880.30M416.18 866.33V880.30M421.08 871.16V880.30M425.99 866.94V880.30M430.89 871.16V880.30M435.80 865.13V880.30M440.70 873.27V880.30M445.61 869.95V880.30M450.51 851.25V880.30M455.42 874.48V880.30M460.32 869.95V880.30M465.23 866.33V880.30M470.13 868.75V880.30M475.04 873.27V880.30M479.94 860.30V880.30M484.85 856.38V880.30M489.75 862.71V880.30M494.66 858.19V880.30M499.56 875.38V880.30M504.47 871.76V880.30M509.37 868.75V880.30M514.27 873.27V880.30M519.18 867.84V880.30M524.09 866.33V880.30M528.99 875.38V880.30M533.89 871.16V880.30M538.80 873.27V880.30M543.71 847.33V880.30M548.61 825.02V880.30M553.51 862.11V880.30M558.42 875.38V880.30M563.33 855.17V880.30M568.23 854.27V880.30M573.13 815.97V880.30M578.04 809.03V880.30M582.95 848.24V880.30M587.85 841.30V880.30M592.75 851.86V880.30M597.66 857.29V880.30M602.57 851.25V880.30M607.47 831.65V880.30M612.38 862.11V880.30M617.28 875.38V880.30M622.19 865.13V880.30M627.09 864.22V880.30M632.00 872.36V880.30M636.90 856.38V880.30M641.81 859.10V880.30M646.71 856.38V880.30M651.62 862.11V880.30M656.52 872.36V880.30M661.43 867.24V880.30M666.33 871.16V880.30M671.24 863.32V880.30M676.14 858.19V880.30M681.05 859.70V880.30M685.95 871.16V880.30M690.86 876.89V880.30M695.76 837.68V880.30M700.67 857.89V880.30M705.57 877.79V880.30M710.48 879.30V880.30M715.38 877.79V880.30M720.29 876.89V880.30M725.19 873.27V880.30M730.10 871.16V880.30M735.00 867.24V880.30M739.91 867.24V880.30M744.81 875.98V880.30M749.72 877.19V880.30M754.62 865.13V880.30M759.53 869.95V880.30M764.43 865.13V880.30M769.34 874.48V880.30M774.24 822.91V880.30M779.15 862.11V880.30M784.05 875.38V880.30M788.96 863.32V880.30M793.86 873.27V880.30M798.77 871.16V880.30M803.67 869.95V880.30M808.58 873.27V880.30M813.48 873.27V880.30M818.39 864.22V880.30M823.29 874.78V880.30M828.20 860.30V880.30M833.10 873.27V880.30M838.00 864.22V880.30M842.91 860.30V880.30M847.82 871.16V880.30M852.72 872.36V880.30M857.62 864.22V880.30M862.53 873.27V880.30M867.44 847.33V880.30M872.34 631.71V880.30M877.25 698.06V880.30M882.15 777.37V880.30M887.06 822.91V880.30M891.96 851.25V880.30M896.87 847.33V880.30M901.77 840.70V880.30M906.68 837.68V880.30M911.58 860.30V880.30M916.49 834.67V880.30M921.39 828.03V880.30M926.30 858.19V880.30M931.20 818.08V880.30M936.11 825.02V880.30M941.01 812.96V880.30M945.92 837.68V880.30M950.82 842.81V880.30M955.73 851.86V880.30M960.63 864.22V880.30M965.54 854.27V880.30M970.44 853.06V880.30M975.35 842.21V880.30M980.25 856.38V880.30M985.16 863.32V880.30M990.06 864.22V880.30M994.97 820.19V880.30M999.87 864.22V880.30M1004.78 864.22V880.30M1009.68 862.11V880.30M1014.59 845.22V880.30M1019.49 850.35V880.30M1024.39 853.67V880.30M1029.30 846.13V880.30M1034.20 849.14V880.30M1039.11 822.91V880.30M1044.02 717.96V880.30M1048.92 714.95V880.30M1053.83 803.91V880.30M1058.73 781.89V880.30M1063.63 793.96V880.30M1068.54 824.11V880.30M1073.45 840.10V880.30M1078.35 843.11V880.30M1083.26 839.19V880.30M1088.16 858.19V880.30M1093.07 843.72V880.30M1097.97 740.28V880.30M1102.88 794.86V880.30M1107.78 851.25V880.30M1112.69 818.08V880.30M1117.59 853.06V880.30M1122.50 857.29V880.30M1127.40 808.13V880.30M1132.31 836.18V880.30M1137.21 832.26V880.30M1142.12 860.30V880.30M1147.02 852.16V880.30M1151.92 849.14V880.30M1156.83 777.97V880.30M1161.74 836.18V880.30M1166.64 815.97V880.30M1171.55 805.11V880.30M1176.45 803.00V880.30M1181.36 857.29V880.30M1186.26 840.10V880.30M1191.16 855.17V880.30M1196.07 832.26V880.30M1200.98 803.91V880.30M1205.88 860.90V880.30M1210.79 851.86V880.30M1215.69 856.38V880.30M1220.60 831.05V880.30M1225.50 843.11V880.30M1230.40 857.29V880.30M1235.31 851.25V880.30M1240.22 845.22V880.30M1245.12 838.29V880.30M1250.03 851.86V880.30M1254.93 858.19V880.30M1259.84 851.86V880.30M1264.74 858.19V880.30M1269.64 859.10V880.30M1274.55 851.25V880.30M1279.46 864.83V880.30M1284.36 865.13V880.30M1289.27 845.22V880.30M1294.17 857.29V880.30M1299.08 748.12V880.30M1303.98 863.32V880.30M1308.88 858.19V880.30M1313.79 866.33V880.30M1318.70 865.13V880.30M1323.60 849.14V880.30M1328.51 860.30V880.30M1333.41 865.13V880.30M1338.32 849.14V880.30M1343.22 856.38V880.30M1348.12 867.24V880.30M1353.03 856.38V880.30M1357.94 852.16V880.30M1362.84 847.33V880.30M1367.75 847.33V880.30M1372.65 836.18V880.30M1377.56 868.14V880.30M1382.46 865.13V880.30M1387.37 867.24V880.30M1392.27 858.19V880.30M1397.18 803.91V880.30M1402.08 867.24V880.30M1406.99 859.10V880.30M1411.89 829.24V880.30M1416.80 864.22V880.30M1421.70 751.74V880.30M1426.61 841.30V880.30M1431.51 857.29V880.30M1436.42 848.24V880.30M1441.32 843.11V880.30M1446.23 862.11V880.30M1451.13 868.75V880.30M1456.04 848.24V880.30M1460.94 799.99V880.30M1465.85 714.95V880.30M1470.75 836.18V880.30M1475.65 848.24V880.30M1480.56 867.24V880.30M1485.47 863.32V880.30M1490.37 873.27V880.30M1495.28 870.25V880.30M1500.18 856.38V880.30M1505.09 868.14V880.30M1509.99 870.25V880.30M1514.89 859.10V880.30M1519.80 868.14V880.30M1524.71 868.14V880.30M1529.61 871.16V880.30M1534.52 856.38V880.30M1539.42 871.16V880.30M1544.33 875.38V880.30M1549.23 849.14V880.30M1554.13 867.24V880.30M1559.04 875.38V880.30M1563.95 859.10V880.30M1568.85 867.24V880.30M1573.76 867.24V880.30M1578.66 870.25V880.30M1583.57 856.38V880.30M1588.47 861.21V880.30M1593.38 853.06V880.30M1598.28 854.27V880.30M1603.19 859.10V880.30M1608.09 867.24V880.30M1613.00 845.22V880.30M1617.90 873.27V880.30M1622.81 855.17V880.30M1627.71 869.35V880.30M1632.62 853.06V880.30M1637.52 860.30V880.30M1642.43 870.25V880.30M1647.33 860.30V880.30M1652.24 861.21V880.30M1657.14 852.16V880.30M1662.05 867.24V880.30M1666.95 873.27V880.30M1671.86 879.00V880.30M1676.76 847.33V880.30M1681.67 866.33V880.30M1686.57 867.24V880.30M1691.48 848.24V880.30M1696.38 848.24V880.30M1701.29 856.38V880.30M1706.19 802.10V880.30M1711.10 842.21V880.30M1716.00 861.21V880.30M1720.91 863.32V880.30M1725.81 842.21V880.30M1730.72 848.24V880.30M1735.62 863.32V880.30M1740.53 861.21V880.30M1745.43 860.30V880.30M1750.34 866.33V880.30M1755.24 859.10V880.30M1760.15 754.15V880.30M1765.05 849.14V880.30M1769.96 833.16V880.30M1774.86 840.10V880.30M1779.77 862.11V880.30M1784.67 854.27V880.30M1789.58 866.33V880.30M1794.48 863.32V880.30M1799.38 865.13V880.30" stroke="#0000ff" stroke-width="1.2" fill="none"/>
<polyline points="35.80,772.85 38.49,790.94 43.40,823.51 48.30,796.97 53.20,774.35 58.11,765.31 63.02,692.93 67.92,714.04 72.83,670.31 77.73,763.80 82.64,792.45 87.54,757.77 92.45,747.21 97.35,787.93 102.25,760.78 107.16,712.53 112.06,677.85 116.97,711.03 121.88,763.80 126.78,805.42 131.69,703.49 136.59,680.87 141.50,668.20 146.40,724.60 151.31,749.32 156.21,719.17 161.12,727.01 166.02,795.46 170.93,729.12 175.83,693.84 180.74,754.75 185.64,837.68 190.55,782.50 195.45,793.96 200.36,796.07 205.26,753.24 210.17,812.05 215.07,832.56 219.98,833.76 224.88,839.19 229.79,840.70 234.69,796.37 239.60,803.00 244.50,726.10 249.41,775.26 254.31,739.67 259.22,671.82 264.12,659.76 269.03,727.01 273.93,696.55 278.83,725.20 283.74,692.93 288.64,733.64 293.55,742.09 298.46,737.26 303.36,655.24 308.27,643.78 313.17,721.58 318.08,774.35 322.98,806.02 327.89,806.62 332.79,832.56 337.70,738.17 342.60,751.74 347.51,781.89 352.41,729.12 357.31,685.39 362.22,742.69 367.12,697.45 372.03,701.98 376.94,652.22 381.84,753.24 386.75,730.63 391.65,707.10 396.56,704.99 401.46,655.24 406.37,641.06 411.27,697.45 416.18,730.02 421.08,706.50 425.99,763.20 430.89,745.10 435.80,771.34 440.70,773.45 445.61,760.18 450.51,815.67 455.42,747.21 460.32,694.44 465.23,698.96 470.13,787.32 475.04,728.21 479.94,717.06 484.85,781.89 489.75,765.31 494.66,793.35 499.56,787.32 504.47,787.32 509.37,682.98 514.27,679.96 519.18,778.88 524.09,736.66 528.99,673.33 533.89,757.77 538.80,699.87 543.71,762.29 548.61,671.82 553.51,704.99 558.42,692.93 563.33,749.32 568.23,748.12 573.13,676.34 578.04,750.23 582.95,787.93 587.85,798.48 592.75,768.32 597.66,754.75 602.57,698.96 607.47,660.66 612.38,728.21 617.28,720.07 622.19,687.80 627.09,676.34 632.00,675.74 636.90,650.71 641.81,641.66 646.71,651.62 651.62,641.06 656.52,661.27 661.43,711.03 666.33,659.16 671.24,722.18 676.14,766.82 681.05,758.37 685.95,821.10 690.86,781.29 695.76,837.68 700.67,812.65 705.57,820.49 710.48,750.23 715.38,780.39 720.29,729.12 725.19,779.48 730.10,698.96 735.00,693.84 739.91,751.74 744.81,726.10 749.72,783.40 754.62,807.53 759.53,774.35 764.43,730.63 769.34,683.88 774.24,663.68 779.15,697.45 784.05,681.77 788.96,658.25 793.86,705.90 798.77,670.31 803.67,730.63 808.58,692.03 813.48,717.06 818.39,727.61 823.29,693.84 828.20,796.97 833.10,813.56 838.00,778.88 842.91,714.04 847.82,783.40 852.72,711.03 857.62,716.15 862.53,692.93 867.44,652.22 872.34,824.11 877.25,828.64 882.15,809.03 887.06,815.07 891.96,819.59 896.87,821.70 901.77,825.62 906.68,839.19 911.58,835.57 916.49,845.22 921.39,845.22 926.30,851.25 931.20,857.29 936.11,735.15 941.01,726.10 945.92,696.85 950.82,750.23 955.73,781.89 960.63,742.69 965.54,781.29 970.44,759.28 975.35,721.58 980.25,694.44 985.16,742.69 990.06,769.83 994.97,810.54 999.87,806.02 1004.78,775.26 1009.68,809.03 1014.59,837.68 1019.49,846.73 1024.39,853.67 1029.30,812.05 1034.20,816.57 1039.11,842.21 1044.02,854.27 1048.92,855.78 1053.83,835.57 1058.73,843.72 1063.63,745.71 1068.54,754.75 1073.45,721.58 1078.35,701.98 1083.26,751.74 1088.16,766.82 1093.07,781.89 1097.97,720.07 1102.88,674.84 1107.78,670.31 1112.69,650.71 1117.59,689.92 1122.50,686.90 1127.40,644.68 1132.31,639.25 1137.21,640.16 1142.12,664.28 1147.02,645.59 1151.92,640.16 1156.83,631.11 1161.74,630.51 1166.64,661.27 1171.55,655.24 1176.45,651.62 1181.36,760.18 1186.26,712.53 1191.16,763.80 1196.07,796.97 1200.98,831.65 1205.88,751.74 1210.79,713.44 1215.69,715.55 1220.60,702.88 1225.50,702.88 1230.40,775.26 1235.31,726.10 1240.22,676.34 1245.12,673.33 1250.03,652.22 1254.93,646.19 1259.84,638.65 1264.74,695.95 1269.64,774.35 1274.55,817.48 1279.46,757.77 1284.36,787.93 1289.27,788.53 1294.17,830.14 1299.08,740.28 1303.98,772.85 1308.88,713.44 1313.79,748.72 1318.70,711.03 1323.60,675.74 1328.51,686.90 1333.41,731.23 1338.32,723.09 1343.22,701.07 1348.12,766.82 1353.03,803.00 1357.94,726.10 1362.84,706.50 1367.75,677.85 1372.65,789.43 1377.56,805.42 1382.46,765.31 1387.37,775.86 1392.27,723.99 1397.18,730.02 1402.08,717.06 1406.99,786.42 1411.89,667.30 1416.80,698.96 1421.70,652.82 1426.61,665.79 1431.51,662.77 1436.42,686.90 1441.32,792.45 1446.23,809.03 1451.13,809.03 1456.04,742.69 1460.94,670.31 1465.85,641.66 1470.75,647.70 1475.65,689.01 1480.56,670.31 1485.47,695.95 1490.37,699.87 1495.28,698.96 1500.18,652.22 1505.09,711.03 1509.99,745.10 1514.89,684.79 1519.80,709.52 1524.71,745.71 1529.61,768.32 1534.52,719.17 1539.42,775.86 1544.33,750.23 1549.23,827.13 1554.13,776.47 1559.04,777.37 1563.95,695.95 1568.85,671.22 1573.76,738.17 1578.66,752.34 1583.57,699.87 1588.47,726.10 1593.38,763.80 1598.28,796.37 1603.19,811.45 1608.09,762.29 1613.00,806.02 1617.90,777.37 1622.81,704.99 1627.71,778.88 1632.62,815.67 1637.52,811.45 1642.43,765.31 1647.33,757.17 1652.24,703.49 1657.14,664.28 1662.05,655.24 1666.95,720.07 1671.86,754.15 1676.76,720.07 1681.67,724.60 1686.57,827.13 1691.48,736.66 1696.38,766.82 1701.29,700.47 1706.19,671.22 1711.10,704.99 1716.00,680.87 1720.91,674.84 1725.81,674.84 1730.72,658.25 1735.62,642.57 1740.53,642.57 1745.43,756.26 1750.34,736.66 1755.24,692.03 1760.15,648.60 1765.05,699.87 1769.96,702.88 1774.86,678.76 1779.77,747.21 1784.67,813.56 1789.58,760.78 1794.48,723.09 1799.38,717.06" stroke="#ff0000" stroke-width="1.25" fill="none" stroke-linejoin="round"/>
<circle cx="896.0" cy="222.9" r="6.1" fill="#3cb371"/>
<text x="896.0" y="226.6" text-anchor="middle" style="font-family:'Liberation Serif',serif;font-size:11px;font-weight:bold;fill:#fff">1</text>
<circle cx="1421.1" cy="243.9" r="6.1" fill="#3cb371"/>
<text x="1421.1" y="247.6" text-anchor="middle" style="font-family:'Liberation Serif',serif;font-size:11px;font-weight:bold;fill:#fff">2</text>
<circle cx="1058.4" cy="576.0" r="6.1" fill="#3cb371"/>
<text x="1058.4" y="579.7" text-anchor="middle" style="font-family:'Liberation Serif',serif;font-size:11px;font-weight:bold;fill:#fff">0</text>
<rect x="239.5" y="388.5" width="355" height="79.5" fill="#f0fff0" stroke="#000" stroke-width="1"/>
<g style="font-family:'Liberation Sans',sans-serif;font-size:13px;font-weight:bold;fill:#000">
<text x="241.3" y="400.70" textLength="344.5" lengthAdjust="spacing">Small black doji sui 43,84 per Interpump che fa i 44,32</text>
<text x="241.3" y="416.55" textLength="220.5" lengthAdjust="spacing">e torna indietro con pochi scambi.</text>
<text x="241.3" y="432.40" textLength="349.0" lengthAdjust="spacing">Bene sopra i 44,8-45 insieme ai volumi ed in quel caso</text>
<text x="241.3" y="448.25" textLength="343.0" lengthAdjust="spacing">aprirà nuovi spazi al rally. Finchè non avremo questo</text>
<text x="241.3" y="464.10" textLength="352.0" lengthAdjust="spacing">segnale potrà tornare indietro come settimana scorsa.</text>
</g>
<path d="M35.60 0V880.30M1856.00 0V880.30M35.60 880.30H1856.00M35.60 891.70H1856.00" stroke="#000" stroke-width="1.3" fill="none"/>
<path d="M35.60 608.20H1856.00" stroke="#000" stroke-width="1.4" fill="none"/>
<path d="M30.00 0.50h5.60M1856.00 0.50h5.60M32.80 3.50h2.80M1856.00 3.50h2.80M32.80 5.50h2.80M1856.00 5.50h2.80M32.80 7.50h2.80M1856.00 7.50h2.80M32.80 10.50h2.80M1856.00 10.50h2.80M30.00 12.50h5.60M1856.00 12.50h5.60M32.80 14.50h2.80M1856.00 14.50h2.80M32.80 17.50h2.80M1856.00 17.50h2.80M32.80 19.50h2.80M1856.00 19.50h2.80M32.80 21.50h2.80M1856.00 21.50h2.80M30.00 23.50h5.60M1856.00 23.50h5.60M32.80 26.50h2.80M1856.00 26.50h2.80M32.80 28.50h2.80M1856.00 28.50h2.80M32.80 30.50h2.80M1856.00 30.50h2.80M32.80 33.50h2.80M1856.00 33.50h2.80M30.00 35.50h5.60M1856.00 35.50h5.60M32.80 37.50h2.80M1856.00 37.50h2.80M32.80 40.50h2.80M1856.00 40.50h2.80M32.80 42.50h2.80M1856.00 42.50h2.80M32.80 44.50h2.80M1856.00 44.50h2.80M30.00 47.50h5.60M1856.00 47.50h5.60M32.80 49.50h2.80M1856.00 49.50h2.80M32.80 51.50h2.80M1856.00 51.50h2.80M32.80 54.50h2.80M1856.00 54.50h2.80M32.80 56.50h2.80M1856.00 56.50h2.80M30.00 58.50h5.60M1856.00 58.50h5.60M32.80 61.50h2.80M1856.00 61.50h2.80M32.80 63.50h2.80M1856.00 63.50h2.80M32.80 65.50h2.80M1856.00 65.50h2.80M32.80 68.50h2.80M1856.00 68.50h2.80M30.00 70.50h5.60M1856.00 70.50h5.60M32.80 72.50h2.80M1856.00 72.50h2.80M32.80 74.50h2.80M1856.00 74.50h2.80M32.80 77.50h2.80M1856.00 77.50h2.80M32.80 79.50h2.80M1856.00 79.50h2.80M30.00 81.50h5.60M1856.00 81.50h5.60M32.80 84.50h2.80M1856.00 84.50h2.80M32.80 86.50h2.80M1856.00 86.50h2.80M32.80 88.50h2.80M1856.00 88.50h2.80M32.80 91.50h2.80M1856.00 91.50h2.80M30.00 93.50h5.60M1856.00 93.50h5.60M32.80 95.50h2.80M1856.00 95.50h2.80M32.80 98.50h2.80M1856.00 98.50h2.80M32.80 100.50h2.80M1856.00 100.50h2.80M32.80 102.50h2.80M1856.00 102.50h2.80M30.00 105.50h5.60M1856.00 105.50h5.60M32.80 107.50h2.80M1856.00 107.50h2.80M32.80 109.50h2.80M1856.00 109.50h2.80M32.80 112.50h2.80M1856.00 112.50h2.80M32.80 114.50h2.80M1856.00 114.50h2.80M30.00 116.50h5.60M1856.00 116.50h5.60M32.80 118.50h2.80M1856.00 118.50h2.80M32.80 121.50h2.80M1856.00 121.50h2.80M32.80 123.50h2.80M1856.00 123.50h2.80M32.80 125.50h2.80M1856.00 125.50h2.80M30.00 128.50h5.60M1856.00 128.50h5.60M32.80 130.50h2.80M1856.00 130.50h2.80M32.80 132.50h2.80M1856.00 132.50h2.80M32.80 135.50h2.80M1856.00 135.50h2.80M32.80 137.50h2.80M1856.00 137.50h2.80M30.00 139.50h5.60M1856.00 139.50h5.60M32.80 142.50h2.80M1856.00 142.50h2.80M32.80 144.50h2.80M1856.00 144.50h2.80M32.80 146.50h2.80M1856.00 146.50h2.80M32.80 149.50h2.80M1856.00 149.50h2.80M30.00 151.50h5.60M1856.00 151.50h5.60M32.80 153.50h2.80M1856.00 153.50h2.80M32.80 156.50h2.80M1856.00 156.50h2.80M32.80 158.50h2.80M1856.00 158.50h2.80M32.80 160.50h2.80M1856.00 160.50h2.80M30.00 163.50h5.60M1856.00 163.50h5.60M32.80 165.50h2.80M1856.00 165.50h2.80M32.80 167.50h2.80M1856.00 167.50h2.80M32.80 169.50h2.80M1856.00 169.50h2.80M32.80 172.50h2.80M1856.00 172.50h2.80M30.00 174.50h5.60M1856.00 174.50h5.60M32.80 176.50h2.80M1856.00 176.50h2.80M32.80 179.50h2.80M1856.00 179.50h2.80M32.80 181.50h2.80M1856.00 181.50h2.80M32.80 183.50h2.80M1856.00 183.50h2.80M30.00 186.50h5.60M1856.00 186.50h5.60M32.80 188.50h2.80M1856.00 188.50h2.80M32.80 190.50h2.80M1856.00 190.50h2.80M32.80 193.50h2.80M1856.00 193.50h2.80M32.80 195.50h2.80M1856.00 195.50h2.80M30.00 197.50h5.60M1856.00 197.50h5.60M32.80 200.50h2.80M1856.00 200.50h2.80M32.80 202.50h2.80M1856.00 202.50h2.80M32.80 204.50h2.80M1856.00 204.50h2.80M32.80 207.50h2.80M1856.00 207.50h2.80M30.00 209.50h5.60M1856.00 209.50h5.60M32.80 211.50h2.80M1856.00 211.50h2.80M32.80 213.50h2.80M1856.00 213.50h2.80M32.80 216.50h2.80M1856.00 216.50h2.80M32.80 218.50h2.80M1856.00 218.50h2.80M30.00 220.50h5.60M1856.00 220.50h5.60M32.80 223.50h2.80M1856.00 223.50h2.80M32.80 225.50h2.80M1856.00 225.50h2.80M32.80 227.50h2.80M1856.00 227.50h2.80M32.80 230.50h2.80M1856.00 230.50h2.80M30.00 232.50h5.60M1856.00 232.50h5.60M32.80 234.50h2.80M1856.00 234.50h2.80M32.80 237.50h2.80M1856.00 237.50h2.80M32.80 239.50h2.80M1856.00 239.50h2.80M32.80 241.50h2.80M1856.00 241.50h2.80M30.00 244.50h5.60M1856.00 244.50h5.60M32.80 246.50h2.80M1856.00 246.50h2.80M32.80 248.50h2.80M1856.00 248.50h2.80M32.80 251.50h2.80M1856.00 251.50h2.80M32.80 253.50h2.80M1856.00 253.50h2.80M30.00 255.50h5.60M1856.00 255.50h5.60M32.80 258.50h2.80M1856.00 258.50h2.80M32.80 260.50h2.80M1856.00 260.50h2.80M32.80 262.50h2.80M1856.00 262.50h2.80M32.80 264.50h2.80M1856.00 264.50h2.80M30.00 267.50h5.60M1856.00 267.50h5.60M32.80 269.50h2.80M1856.00 269.50h2.80M32.80 271.50h2.80M1856.00 271.50h2.80M32.80 274.50h2.80M1856.00 274.50h2.80M32.80 276.50h2.80M1856.00 276.50h2.80M30.00 278.50h5.60M1856.00 278.50h5.60M32.80 281.50h2.80M1856.00 281.50h2.80M32.80 283.50h2.80M1856.00 283.50h2.80M32.80 285.50h2.80M1856.00 285.50h2.80M32.80 288.50h2.80M1856.00 288.50h2.80M30.00 290.50h5.60M1856.00 290.50h5.60M32.80 292.50h2.80M1856.00 292.50h2.80M32.80 295.50h2.80M1856.00 295.50h2.80M32.80 297.50h2.80M1856.00 297.50h2.80M32.80 299.50h2.80M1856.00 299.50h2.80M30.00 302.50h5.60M1856.00 302.50h5.60M32.80 304.50h2.80M1856.00 304.50h2.80M32.80 306.50h2.80M1856.00 306.50h2.80M32.80 309.50h2.80M1856.00 309.50h2.80M32.80 311.50h2.80M1856.00 311.50h2.80M30.00 313.50h5.60M1856.00 313.50h5.60M32.80 315.50h2.80M1856.00 315.50h2.80M32.80 318.50h2.80M1856.00 318.50h2.80M32.80 320.50h2.80M1856.00 320.50h2.80M32.80 322.50h2.80M1856.00 322.50h2.80M30.00 325.50h5.60M1856.00 325.50h5.60M32.80 327.50h2.80M1856.00 327.50h2.80M32.80 329.50h2.80M1856.00 329.50h2.80M32.80 332.50h2.80M1856.00 332.50h2.80M32.80 334.50h2.80M1856.00 334.50h2.80M30.00 336.50h5.60M1856.00 336.50h5.60M32.80 339.50h2.80M1856.00 339.50h2.80M32.80 341.50h2.80M1856.00 341.50h2.80M32.80 343.50h2.80M1856.00 343.50h2.80M32.80 346.50h2.80M1856.00 346.50h2.80M30.00 348.50h5.60M1856.00 348.50h5.60M32.80 350.50h2.80M1856.00 350.50h2.80M32.80 353.50h2.80M1856.00 353.50h2.80M32.80 355.50h2.80M1856.00 355.50h2.80M32.80 357.50h2.80M1856.00 357.50h2.80M30.00 359.50h5.60M1856.00 359.50h5.60M32.80 362.50h2.80M1856.00 362.50h2.80M32.80 364.50h2.80M1856.00 364.50h2.80M32.80 366.50h2.80M1856.00 366.50h2.80M32.80 369.50h2.80M1856.00 369.50h2.80M30.00 371.50h5.60M1856.00 371.50h5.60M32.80 373.50h2.80M1856.00 373.50h2.80M32.80 376.50h2.80M1856.00 376.50h2.80M32.80 378.50h2.80M1856.00 378.50h2.80M32.80 380.50h2.80M1856.00 380.50h2.80M30.00 383.50h5.60M1856.00 383.50h5.60M32.80 385.50h2.80M1856.00 385.50h2.80M32.80 387.50h2.80M1856.00 387.50h2.80M32.80 390.50h2.80M1856.00 390.50h2.80M32.80 392.50h2.80M1856.00 392.50h2.80M30.00 394.50h5.60M1856.00 394.50h5.60M32.80 397.50h2.80M1856.00 397.50h2.80M32.80 399.50h2.80M1856.00 399.50h2.80M32.80 401.50h2.80M1856.00 401.50h2.80M32.80 404.50h2.80M1856.00 404.50h2.80M30.00 406.50h5.60M1856.00 406.50h5.60M32.80 408.50h2.80M1856.00 408.50h2.80M32.80 410.50h2.80M1856.00 410.50h2.80M32.80 413.50h2.80M1856.00 413.50h2.80M32.80 415.50h2.80M1856.00 415.50h2.80M30.00 417.50h5.60M1856.00 417.50h5.60M32.80 420.50h2.80M1856.00 420.50h2.80M32.80 422.50h2.80M1856.00 422.50h2.80M32.80 424.50h2.80M1856.00 424.50h2.80M32.80 427.50h2.80M1856.00 427.50h2.80M30.00 429.50h5.60M1856.00 429.50h5.60M32.80 431.50h2.80M1856.00 431.50h2.80M32.80 434.50h2.80M1856.00 434.50h2.80M32.80 436.50h2.80M1856.00 436.50h2.80M32.80 438.50h2.80M1856.00 438.50h2.80M30.00 441.50h5.60M1856.00 441.50h5.60M32.80 443.50h2.80M1856.00 443.50h2.80M32.80 445.50h2.80M1856.00 445.50h2.80M32.80 448.50h2.80M1856.00 448.50h2.80M32.80 450.50h2.80M1856.00 450.50h2.80M30.00 452.50h5.60M1856.00 452.50h5.60M32.80 454.50h2.80M1856.00 454.50h2.80M32.80 457.50h2.80M1856.00 457.50h2.80M32.80 459.50h2.80M1856.00 459.50h2.80M32.80 461.50h2.80M1856.00 461.50h2.80M30.00 464.50h5.60M1856.00 464.50h5.60M32.80 466.50h2.80M1856.00 466.50h2.80M32.80 468.50h2.80M1856.00 468.50h2.80M32.80 471.50h2.80M1856.00 471.50h2.80M32.80 473.50h2.80M1856.00 473.50h2.80M30.00 475.50h5.60M1856.00 475.50h5.60M32.80 478.50h2.80M1856.00 478.50h2.80M32.80 480.50h2.80M1856.00 480.50h2.80M32.80 482.50h2.80M1856.00 482.50h2.80M32.80 485.50h2.80M1856.00 485.50h2.80M30.00 487.50h5.60M1856.00 487.50h5.60M32.80 489.50h2.80M1856.00 489.50h2.80M32.80 492.50h2.80M1856.00 492.50h2.80M32.80 494.50h2.80M1856.00 494.50h2.80M32.80 496.50h2.80M1856.00 496.50h2.80M30.00 499.50h5.60M1856.00 499.50h5.60M32.80 501.50h2.80M1856.00 501.50h2.80M32.80 503.50h2.80M1856.00 503.50h2.80M32.80 505.50h2.80M1856.00 505.50h2.80M32.80 508.50h2.80M1856.00 508.50h2.80M30.00 510.50h5.60M1856.00 510.50h5.60M32.80 512.50h2.80M1856.00 512.50h2.80M32.80 515.50h2.80M1856.00 515.50h2.80M32.80 517.50h2.80M1856.00 517.50h2.80M32.80 519.50h2.80M1856.00 519.50h2.80M30.00 522.50h5.60M1856.00 522.50h5.60M32.80 524.50h2.80M1856.00 524.50h2.80M32.80 526.50h2.80M1856.00 526.50h2.80M32.80 529.50h2.80M1856.00 529.50h2.80M32.80 531.50h2.80M1856.00 531.50h2.80M30.00 533.50h5.60M1856.00 533.50h5.60M32.80 536.50h2.80M1856.00 536.50h2.80M32.80 538.50h2.80M1856.00 538.50h2.80M32.80 540.50h2.80M1856.00 540.50h2.80M32.80 543.50h2.80M1856.00 543.50h2.80M30.00 545.50h5.60M1856.00 545.50h5.60M32.80 547.50h2.80M1856.00 547.50h2.80M32.80 549.50h2.80M1856.00 549.50h2.80M32.80 552.50h2.80M1856.00 552.50h2.80M32.80 554.50h2.80M1856.00 554.50h2.80M30.00 556.50h5.60M1856.00 556.50h5.60M32.80 559.50h2.80M1856.00 559.50h2.80M32.80 561.50h2.80M1856.00 561.50h2.80M32.80 563.50h2.80M1856.00 563.50h2.80M32.80 566.50h2.80M1856.00 566.50h2.80M30.00 568.50h5.60M1856.00 568.50h5.60M32.80 570.50h2.80M1856.00 570.50h2.80M32.80 573.50h2.80M1856.00 573.50h2.80M32.80 575.50h2.80M1856.00 575.50h2.80M32.80 577.50h2.80M1856.00 577.50h2.80M30.00 580.50h5.60M1856.00 580.50h5.60M32.80 582.50h2.80M1856.00 582.50h2.80M32.80 584.50h2.80M1856.00 584.50h2.80M32.80 587.50h2.80M1856.00 587.50h2.80M32.80 589.50h2.80M1856.00 589.50h2.80M30.00 591.50h5.60M1856.00 591.50h5.60M32.80 594.50h2.80M1856.00 594.50h2.80M32.80 596.50h2.80M1856.00 596.50h2.80M32.80 598.50h2.80M1856.00 598.50h2.80M32.80 600.50h2.80M1856.00 600.50h2.80M30.00 603.50h5.60M1856.00 603.50h5.60M32.80 605.50h2.80M1856.00 605.50h2.80M32.80 609.50h2.80M32.80 611.50h2.80M30.00 614.50h5.60M32.80 616.50h2.80M32.80 618.50h2.80M32.80 621.50h2.80M32.80 623.50h2.80M30.00 625.50h5.60M32.80 628.50h2.80M32.80 630.50h2.80M32.80 633.50h2.80M32.80 635.50h2.80M30.00 637.50h5.60M32.80 640.50h2.80M32.80 642.50h2.80M32.80 644.50h2.80M32.80 647.50h2.80M30.00 649.50h5.60M32.80 651.50h2.80M32.80 654.50h2.80M32.80 656.50h2.80M32.80 658.50h2.80M30.00 661.50h5.60M32.80 663.50h2.80M32.80 665.50h2.80M32.80 668.50h2.80M32.80 670.50h2.80M30.00 672.50h5.60M32.80 675.50h2.80M32.80 677.50h2.80M32.80 680.50h2.80M32.80 682.50h2.80M30.00 684.50h5.60M32.80 687.50h2.80M32.80 689.50h2.80M32.80 691.50h2.80M32.80 694.50h2.80M30.00 696.50h5.60M32.80 698.50h2.80M32.80 701.50h2.80M32.80 703.50h2.80M32.80 705.50h2.80M30.00 708.50h5.60M32.80 710.50h2.80M32.80 712.50h2.80M32.80 715.50h2.80M32.80 717.50h2.80M30.00 719.50h5.60M32.80 722.50h2.80M32.80 724.50h2.80M32.80 726.50h2.80M32.80 729.50h2.80M30.00 731.50h5.60M32.80 734.50h2.80M32.80 736.50h2.80M32.80 738.50h2.80M32.80 741.50h2.80M30.00 743.50h5.60M32.80 745.50h2.80M32.80 748.50h2.80M32.80 750.50h2.80M32.80 752.50h2.80M30.00 755.50h5.60M32.80 757.50h2.80M32.80 759.50h2.80M32.80 762.50h2.80M32.80 764.50h2.80M30.00 766.50h5.60M32.80 769.50h2.80M32.80 771.50h2.80M32.80 773.50h2.80M32.80 776.50h2.80M30.00 778.50h5.60M32.80 781.50h2.80M32.80 783.50h2.80M32.80 785.50h2.80M32.80 788.50h2.80M30.00 790.50h5.60M32.80 792.50h2.80M32.80 795.50h2.80M32.80 797.50h2.80M32.80 799.50h2.80M30.00 802.50h5.60M32.80 804.50h2.80M32.80 806.50h2.80M32.80 809.50h2.80M32.80 811.50h2.80M30.00 813.50h5.60M32.80 816.50h2.80M32.80 818.50h2.80M32.80 820.50h2.80M32.80 823.50h2.80M30.00 825.50h5.60M32.80 828.50h2.80M32.80 830.50h2.80M32.80 832.50h2.80M32.80 835.50h2.80M30.00 837.50h5.60M32.80 839.50h2.80M32.80 842.50h2.80M32.80 844.50h2.80M32.80 846.50h2.80M30.00 849.50h5.60M32.80 851.50h2.80M32.80 853.50h2.80M32.80 856.50h2.80M32.80 858.50h2.80M30.00 860.50h5.60M32.80 863.50h2.80M32.80 865.50h2.80M32.80 867.50h2.80M32.80 870.50h2.80M30.00 872.50h5.60M32.80 874.50h2.80M32.80 877.50h2.80M32.80 879.50h2.80M1856.00 617.50h2.80M1856.00 625.50h5.60M1856.00 632.50h2.80M1856.00 639.50h5.60M1856.00 647.50h2.80M1856.00 654.50h5.60M1856.00 662.50h2.80M1856.00 669.50h5.60M1856.00 677.50h2.80M1856.00 684.50h5.60M1856.00 691.50h2.80M1856.00 699.50h5.60M1856.00 706.50h2.80M1856.00 714.50h5.60M1856.00 721.50h2.80M1856.00 729.50h5.60M1856.00 736.50h2.80M1856.00 743.50h5.60M1856.00 751.50h2.80M1856.00 758.50h5.60M1856.00 766.50h2.80M1856.00 773.50h5.60M1856.00 781.50h2.80M1856.00 788.50h5.60M1856.00 795.50h2.80M1856.00 803.50h5.60M1856.00 810.50h2.80M1856.00 818.50h5.60M1856.00 825.50h2.80M1856.00 833.50h5.60M1856.00 840.50h2.80M1856.00 847.50h5.60M1856.00 855.50h2.80M1856.00 862.50h5.60M1856.00 870.50h2.80M1856.00 877.50h5.60" stroke="#000" stroke-width="1.2" fill="none"/>
<path d="M48.30 880.30V891.70M72.83 880.30V891.70M97.35 880.30V891.70M121.88 880.30V891.70M146.40 880.30V891.70M170.93 880.30V891.70M195.45 880.30V891.70M219.98 880.30V891.70M244.50 880.30V891.70M264.12 880.30V891.70M288.64 880.30V891.70M313.17 880.30V891.70M337.70 880.30V891.70M362.22 880.30V891.70M386.75 880.30V891.70M411.27 880.30V891.70M435.80 880.30V891.70M460.32 880.30V891.70M484.85 880.30V891.70M509.37 880.30V891.70M533.89 880.30V891.70M558.42 880.30V891.70M582.95 880.30V891.70M607.47 880.30V891.70M632.00 880.30V891.70M656.52 880.30V891.70M681.05 880.30V891.70M705.57 880.30V891.70M715.38 880.30V891.70M730.10 880.30V891.70M754.62 880.30V891.70M779.15 880.30V891.70M803.67 880.30V891.70M828.20 880.30V891.70M852.72 880.30V891.70M877.25 880.30V891.70M901.77 880.30V891.70M926.30 880.30V891.70M950.82 880.30V891.70M975.35 880.30V891.70M999.87 880.30V891.70M1024.39 880.30V891.70M1048.92 880.30V891.70M1073.45 880.30V891.70M1093.07 880.30V891.70M1112.69 880.30V891.70M1132.31 880.30V891.70M1156.83 880.30V891.70M1181.36 880.30V891.70M1205.88 880.30V891.70M1230.40 880.30V891.70M1254.93 880.30V891.70M1279.46 880.30V891.70M1303.98 880.30V891.70M1328.51 880.30V891.70M1353.03 880.30V891.70M1377.56 880.30V891.70M1402.08 880.30V891.70M1426.61 880.30V891.70M1451.13 880.30V891.70M1475.65 880.30V891.70M1495.28 880.30V891.70M1519.80 880.30V891.70M1544.33 880.30V891.70M1568.85 880.30V891.70M1593.38 880.30V891.70M1617.90 880.30V891.70M1642.43 880.30V891.70M1666.95 880.30V891.70M1691.48 880.30V891.70M1716.00 880.30V891.70M1740.53 880.30V891.70M1765.05 880.30V891.70M1789.58 880.30V891.70M1814.10 880.30V891.70M1838.62 880.30V891.70M97.35 880.30V902M210.17 880.30V902M313.17 880.30V902M416.18 880.30V902M528.99 880.30V902M632.00 880.30V902M720.29 880.30V902M828.20 880.30V902M926.30 880.30V902M1029.30 880.30V902M1127.40 880.30V902M1230.40 880.30V902M1333.41 880.30V902M1446.23 880.30V902M1544.33 880.30V902M1652.24 880.30V902M1765.05 880.30V902" stroke="#000" stroke-width="1.2" fill="none"/>
<g style="font-family:'Liberation Sans',sans-serif;font-size:8.5px;fill:#3a3030">
<text x="26.4" y="15.50" text-anchor="end">49.0</text>
<text x="1887.4" y="15.50" text-anchor="end">49.0</text>
<text x="26.4" y="27.09" text-anchor="end">48.5</text>
<text x="1887.4" y="27.09" text-anchor="end">48.5</text>
<text x="26.4" y="38.67" text-anchor="end">48.0</text>
<text x="1887.4" y="38.67" text-anchor="end">48.0</text>
<text x="26.4" y="50.26" text-anchor="end">47.5</text>
<text x="1887.4" y="50.26" text-anchor="end">47.5</text>
<text x="26.4" y="61.84" text-anchor="end">47.0</text>
<text x="1887.4" y="61.84" text-anchor="end">47.0</text>
<text x="26.4" y="73.43" text-anchor="end">46.5</text>
<text x="1887.4" y="73.43" text-anchor="end">46.5</text>
<text x="26.4" y="85.02" text-anchor="end">46.0</text>
<text x="1887.4" y="85.02" text-anchor="end">46.0</text>
<text x="26.4" y="96.60" text-anchor="end">45.5</text>
<text x="1887.4" y="96.60" text-anchor="end">45.5</text>
<text x="26.4" y="108.19" text-anchor="end">45.0</text>
<text x="1887.4" y="108.19" text-anchor="end">45.0</text>
<text x="26.4" y="119.77" text-anchor="end">44.5</text>
<text x="1887.4" y="119.77" text-anchor="end">44.5</text>
<text x="26.4" y="131.36" text-anchor="end">44.0</text>
<text x="1887.4" y="131.36" text-anchor="end">44.0</text>
<text x="26.4" y="142.95" text-anchor="end">43.5</text>
<text x="1887.4" y="142.95" text-anchor="end">43.5</text>
<text x="26.4" y="154.53" text-anchor="end">43.0</text>
<text x="1887.4" y="154.53" text-anchor="end">43.0</text>
<text x="26.4" y="166.12" text-anchor="end">42.5</text>
<text x="1887.4" y="166.12" text-anchor="end">42.5</text>
<text x="26.4" y="177.70" text-anchor="end">42.0</text>
<text x="1887.4" y="177.70" text-anchor="end">42.0</text>
<text x="26.4" y="189.29" text-anchor="end">41.5</text>
<text x="1887.4" y="189.29" text-anchor="end">41.5</text>
<text x="26.4" y="200.88" text-anchor="end">41.0</text>
<text x="1887.4" y="200.88" text-anchor="end">41.0</text>
<text x="26.4" y="212.46" text-anchor="end">40.5</text>
<text x="1887.4" y="212.46" text-anchor="end">40.5</text>
<text x="26.4" y="224.05" text-anchor="end">40.0</text>
<text x="1887.4" y="224.05" text-anchor="end">40.0</text>
<text x="26.4" y="235.63" text-anchor="end">39.5</text>
<text x="1887.4" y="235.63" text-anchor="end">39.5</text>
<text x="26.4" y="247.22" text-anchor="end">39.0</text>
<text x="1887.4" y="247.22" text-anchor="end">39.0</text>
<text x="26.4" y="258.81" text-anchor="end">38.5</text>
<text x="1887.4" y="258.81" text-anchor="end">38.5</text>
<text x="26.4" y="270.39" text-anchor="end">38.0</text>
<text x="1887.4" y="270.39" text-anchor="end">38.0</text>
<text x="26.4" y="281.98" text-anchor="end">37.5</text>
<text x="1887.4" y="281.98" text-anchor="end">37.5</text>
<text x="26.4" y="293.56" text-anchor="end">37.0</text>
<text x="1887.4" y="293.56" text-anchor="end">37.0</text>
<text x="26.4" y="305.15" text-anchor="end">36.5</text>
<text x="1887.4" y="305.15" text-anchor="end">36.5</text>
<text x="26.4" y="316.74" text-anchor="end">36.0</text>
<text x="1887.4" y="316.74" text-anchor="end">36.0</text>
<text x="26.4" y="328.32" text-anchor="end">35.5</text>
<text x="1887.4" y="328.32" text-anchor="end">35.5</text>
<text x="26.4" y="339.91" text-anchor="end">35.0</text>
<text x="1887.4" y="339.91" text-anchor="end">35.0</text>
<text x="26.4" y="351.49" text-anchor="end">34.5</text>
<text x="1887.4" y="351.49" text-anchor="end">34.5</text>
<text x="26.4" y="363.08" text-anchor="end">34.0</text>
<text x="1887.4" y="363.08" text-anchor="end">34.0</text>
<text x="26.4" y="374.67" text-anchor="end">33.5</text>
<text x="1887.4" y="374.67" text-anchor="end">33.5</text>
<text x="26.4" y="386.25" text-anchor="end">33.0</text>
<text x="1887.4" y="386.25" text-anchor="end">33.0</text>
<text x="26.4" y="397.84" text-anchor="end">32.5</text>
<text x="1887.4" y="397.84" text-anchor="end">32.5</text>
<text x="26.4" y="409.42" text-anchor="end">32.0</text>
<text x="1887.4" y="409.42" text-anchor="end">32.0</text>
<text x="26.4" y="421.01" text-anchor="end">31.5</text>
<text x="1887.4" y="421.01" text-anchor="end">31.5</text>
<text x="26.4" y="432.60" text-anchor="end">31.0</text>
<text x="1887.4" y="432.60" text-anchor="end">31.0</text>
<text x="26.4" y="444.18" text-anchor="end">30.5</text>
<text x="1887.4" y="444.18" text-anchor="end">30.5</text>
<text x="26.4" y="455.77" text-anchor="end">30.0</text>
<text x="1887.4" y="455.77" text-anchor="end">30.0</text>
<text x="26.4" y="467.35" text-anchor="end">29.5</text>
<text x="1887.4" y="467.35" text-anchor="end">29.5</text>
<text x="26.4" y="478.94" text-anchor="end">29.0</text>
<text x="1887.4" y="478.94" text-anchor="end">29.0</text>
<text x="26.4" y="490.53" text-anchor="end">28.5</text>
<text x="1887.4" y="490.53" text-anchor="end">28.5</text>
<text x="26.4" y="502.11" text-anchor="end">28.0</text>
<text x="1887.4" y="502.11" text-anchor="end">28.0</text>
<text x="26.4" y="513.70" text-anchor="end">27.5</text>
<text x="1887.4" y="513.70" text-anchor="end">27.5</text>
<text x="26.4" y="525.28" text-anchor="end">27.0</text>
<text x="1887.4" y="525.28" text-anchor="end">27.0</text>
<text x="26.4" y="536.87" text-anchor="end">26.5</text>
<text x="1887.4" y="536.87" text-anchor="end">26.5</text>
<text x="26.4" y="548.46" text-anchor="end">26.0</text>
<text x="1887.4" y="548.46" text-anchor="end">26.0</text>
<text x="26.4" y="560.04" text-anchor="end">25.5</text>
<text x="1887.4" y="560.04" text-anchor="end">25.5</text>
<text x="26.4" y="571.63" text-anchor="end">25.0</text>
<text x="1887.4" y="571.63" text-anchor="end">25.0</text>
<text x="26.4" y="583.21" text-anchor="end">24.5</text>
<text x="1887.4" y="583.21" text-anchor="end">24.5</text>
<text x="26.4" y="594.80" text-anchor="end">24.0</text>
<text x="1887.4" y="594.80" text-anchor="end">24.0</text>
<text x="26.4" y="606.39" text-anchor="end">23.5</text>
<text x="1887.4" y="606.39" text-anchor="end">23.5</text>
<text x="26.4" y="617.34" text-anchor="end">105</text>
<text x="26.4" y="629.09" text-anchor="end">100</text>
<text x="26.4" y="640.83" text-anchor="end">95</text>
<text x="26.4" y="652.58" text-anchor="end">90</text>
<text x="26.4" y="664.32" text-anchor="end">85</text>
<text x="26.4" y="676.07" text-anchor="end">80</text>
<text x="26.4" y="687.81" text-anchor="end">75</text>
<text x="26.4" y="699.56" text-anchor="end">70</text>
<text x="26.4" y="711.30" text-anchor="end">65</text>
<text x="26.4" y="723.05" text-anchor="end">60</text>
<text x="26.4" y="734.79" text-anchor="end">55</text>
<text x="26.4" y="746.54" text-anchor="end">50</text>
<text x="26.4" y="758.28" text-anchor="end">45</text>
<text x="26.4" y="770.03" text-anchor="end">40</text>
<text x="26.4" y="781.77" text-anchor="end">35</text>
<text x="26.4" y="793.52" text-anchor="end">30</text>
<text x="26.4" y="805.26" text-anchor="end">25</text>
<text x="26.4" y="817.01" text-anchor="end">20</text>
<text x="26.4" y="828.75" text-anchor="end">15</text>
<text x="26.4" y="840.50" text-anchor="end">10</text>
<text x="26.4" y="852.25" text-anchor="end">5</text>
<text x="26.4" y="863.99" text-anchor="end">0</text>
<text x="26.4" y="875.74" text-anchor="end">-5</text>
<text x="1887.4" y="628.20" text-anchor="end">18000</text>
<text x="1887.4" y="643.05" text-anchor="end">17000</text>
<text x="1887.4" y="657.90" text-anchor="end">16000</text>
<text x="1887.4" y="672.75" text-anchor="end">15000</text>
<text x="1887.4" y="687.60" text-anchor="end">14000</text>
<text x="1887.4" y="702.45" text-anchor="end">13000</text>
<text x="1887.4" y="717.30" text-anchor="end">12000</text>
<text x="1887.4" y="732.15" text-anchor="end">11000</text>
<text x="1887.4" y="747.00" text-anchor="end">10000</text>
<text x="1887.4" y="761.85" text-anchor="end">9000</text>
<text x="1887.4" y="776.70" text-anchor="end">8000</text>
<text x="1887.4" y="791.55" text-anchor="end">7000</text>
<text x="1887.4" y="806.40" text-anchor="end">6000</text>
<text x="1887.4" y="821.25" text-anchor="end">5000</text>
<text x="1887.4" y="836.10" text-anchor="end">4000</text>
<text x="1887.4" y="850.95" text-anchor="end">3000</text>
<text x="1887.4" y="865.80" text-anchor="end">2000</text>
<text x="49.90" y="888.7">17</text>
<text x="74.42" y="888.7">24</text>
<text x="98.95" y="888.7">1</text>
<text x="123.47" y="888.7">8</text>
<text x="148.00" y="888.7">15</text>
<text x="172.53" y="888.7">22</text>
<text x="197.05" y="888.7">29</text>
<text x="221.58" y="888.7">5</text>
<text x="246.10" y="888.7">12</text>
<text x="265.72" y="888.7">19</text>
<text x="290.25" y="888.7">26</text>
<text x="314.77" y="888.7">2</text>
<text x="339.30" y="888.7">9</text>
<text x="363.82" y="888.7">16</text>
<text x="388.35" y="888.7">23</text>
<text x="412.87" y="888.7">30</text>
<text x="437.40" y="888.7">7</text>
<text x="461.92" y="888.7">14</text>
<text x="486.45" y="888.7">21</text>
<text x="510.97" y="888.7">28</text>
<text x="535.50" y="888.7">4</text>
<text x="560.02" y="888.7">11</text>
<text x="584.55" y="888.7">18</text>
<text x="609.07" y="888.7">25</text>
<text x="633.60" y="888.7">2</text>
<text x="658.12" y="888.7">9</text>
<text x="682.65" y="888.7">16</text>
<text x="707.17" y="888.7">23</text>
<text x="731.70" y="888.7">6</text>
<text x="756.22" y="888.7">13</text>
<text x="780.75" y="888.7">20</text>
<text x="805.27" y="888.7">27</text>
<text x="829.80" y="888.7">3</text>
<text x="854.32" y="888.7">10</text>
<text x="878.85" y="888.7">17</text>
<text x="903.37" y="888.7">24</text>
<text x="927.90" y="888.7">3</text>
<text x="952.42" y="888.7">10</text>
<text x="976.95" y="888.7">17</text>
<text x="1001.47" y="888.7">24</text>
<text x="1025.99" y="888.7">31</text>
<text x="1050.52" y="888.7">7</text>
<text x="1075.05" y="888.7">14</text>
<text x="1094.66" y="888.7">22</text>
<text x="1114.29" y="888.7">28</text>
<text x="1133.90" y="888.7">5</text>
<text x="1158.43" y="888.7">12</text>
<text x="1182.95" y="888.7">19</text>
<text x="1207.48" y="888.7">26</text>
<text x="1232.00" y="888.7">2</text>
<text x="1256.53" y="888.7">9</text>
<text x="1281.06" y="888.7">16</text>
<text x="1305.58" y="888.7">23</text>
<text x="1330.11" y="888.7">30</text>
<text x="1354.63" y="888.7">7</text>
<text x="1379.15" y="888.7">14</text>
<text x="1403.68" y="888.7">21</text>
<text x="1428.20" y="888.7">28</text>
<text x="1452.73" y="888.7">4</text>
<text x="1477.25" y="888.7">11</text>
<text x="1496.88" y="888.7">18</text>
<text x="1521.40" y="888.7">25</text>
<text x="1545.92" y="888.7">1</text>
<text x="1570.45" y="888.7">8</text>
<text x="1594.97" y="888.7">15</text>
<text x="1619.50" y="888.7">22</text>
<text x="1644.03" y="888.7">29</text>
<text x="1668.55" y="888.7">6</text>
<text x="1693.08" y="888.7">13</text>
<text x="1717.60" y="888.7">20</text>
<text x="1742.12" y="888.7">27</text>
<text x="1766.65" y="888.7">3</text>
<text x="1791.17" y="888.7">10</text>
<text x="1815.70" y="888.7">17</text>
<text x="1840.22" y="888.7">24</text>
<text x="98.65" y="899.7">July</text>
<text x="211.47" y="899.7">August</text>
<text x="314.47" y="899.7">September</text>
<text x="417.48" y="899.7">October</text>
<text x="530.29" y="899.7">November</text>
<text x="633.29" y="899.7">December</text>
<text x="721.59" y="899.7">2025</text>
<text x="829.50" y="899.7">February</text>
<text x="927.60" y="899.7">March</text>
<text x="1030.60" y="899.7">April</text>
<text x="1128.70" y="899.7">May</text>
<text x="1231.70" y="899.7">June</text>
<text x="1334.71" y="899.7">July</text>
<text x="1447.53" y="899.7">August</text>
<text x="1545.62" y="899.7">September</text>
<text x="1653.54" y="899.7">October</text>
<text x="1766.35" y="899.7">November</text>
</g>
<text x="945.5" y="11" text-anchor="middle" style="font-family:'Liberation Sans',sans-serif;font-size:8.6px;fill:#4c5258" textLength="253" lengthAdjust="spacing">Interpump Group (43.9000, 44.3200, 43.7200, 43.8400, +0.10000)</text>
<rect x="1857.4" y="873.1" width="15.9" height="7" fill="#fff" stroke="#000" stroke-width="1.1"/>
<text x="1865.5" y="878.9" text-anchor="middle" style="font-family:'Liberation Sans',sans-serif;font-size:5.8px;fill:#223">x100</text>
</svg></body></html>
